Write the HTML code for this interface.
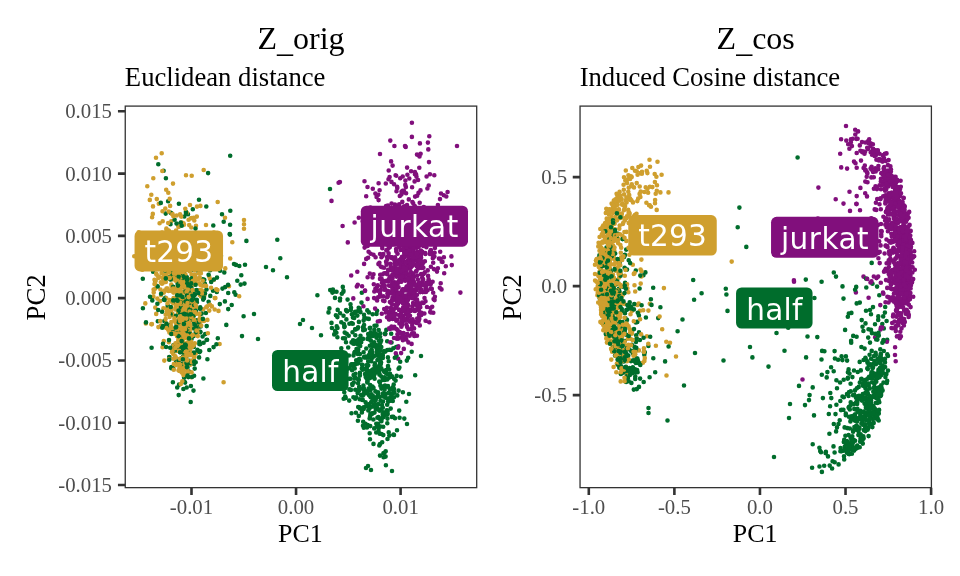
<!DOCTYPE html>
<html lang="en"><head><meta charset="utf-8"><title>PCA: Z_orig vs Z_cos</title>
<style>html,body{margin:0;padding:0;background:#fff}body{width:960px;height:576px;overflow:hidden}</style>
</head><body>
<svg width="960" height="576" viewBox="0 0 960 576" style="display:block;will-change:transform">
<rect width="960" height="576" fill="#fff"/>
<g fill="none" stroke-width="4.6" stroke-linecap="round"><path d="M188.2 342.4h0M192.9 298.9h0M631.4 200.2h0M164.3 255.7h0M177.1 278.7h0M598.3 282.8h0M605.8 213h0M189.2 225.1h0M604.3 226.2h0M625 220.3h0M183.2 298.9h0M182.9 341.7h0M179.5 371h0M209.9 278.7h0M151.4 324.3h0M187.8 264h0M185.2 334.1h0M190.5 364.6h0M206 225h0M187.2 304.6h0M614.8 235.1h0M172.2 275.5h0M600.4 270.2h0M185.1 328h0M173.2 232.5h0M170.3 249.9h0M599.9 246.1h0M190.8 309.5h0M605.9 291.3h0M618.9 209.8h0M603.4 271.5h0M171.7 286.7h0M184.6 299.5h0M158.3 277.9h0M613.4 335.8h0M191.3 227.5h0M166.9 308.2h0M603.4 275.1h0M611.1 229h0M606.6 327.8h0M175.7 322.9h0M623.8 189.7h0M606.8 260.3h0M190.9 218.2h0M193.6 268.2h0M634.9 215.1h0M623.9 210.2h0M154.4 252.4h0M621.5 359.5h0M177 335.9h0M638.2 198.5h0M171.3 232.6h0M179.4 360.5h0M661.6 174.8h0M182.5 366.7h0M617.8 331.2h0M607 220.1h0M175.4 240.6h0M244 220h0M189.2 322.7h0M174.5 269.5h0M188.5 269.6h0M155.3 307.6h0M626 217.8h0M184.6 336.5h0M183.6 321.7h0M184.5 264.6h0M212 254.3h0M190.9 304.3h0M191.9 290.1h0M606.4 230.8h0M597.7 293.1h0M177.5 291.5h0M176.8 276.9h0M204.3 295.7h0M165.3 208.6h0M611.5 249.8h0M597.4 295.3h0M175.6 267.7h0M611.3 359.6h0M606.9 342.6h0M178 312.3h0M189.1 279.2h0M609.1 224.9h0M614.3 338h0M177.8 246.1h0M168.8 342.3h0M173.2 354h0M616.9 201.1h0M185.6 266.1h0M613 316.5h0M165.7 314.7h0M185.8 312.3h0M611.6 217h0M188.2 352.7h0M624.4 359.3h0M602.5 256.6h0M203.1 309.4h0M608.1 263.5h0M614.3 350.3h0M610.2 223.4h0M195.2 313.9h0M617.4 195.3h0M607.2 269.6h0M183.3 274.6h0M176.3 267.7h0M187 305.1h0M195.8 353.5h0M151.6 244.8h0M192.3 320.3h0M605.6 329.2h0M180.2 307.6h0M612.7 334.2h0M609.9 327.2h0M201.4 258.2h0M185.5 274.6h0M173.4 333.8h0M178.6 226.9h0M641.1 165.6h0M602.6 312.1h0M599.7 293.1h0M181.5 342.3h0M183.7 345.5h0M163.4 253.1h0M596 260.5h0M186.1 303.3h0M606.1 320.6h0M652.2 220.4h0M209.2 276.6h0M618.4 306.4h0M624.7 355.4h0M615.3 262.2h0M211.1 247h0M187.5 372.2h0M187.9 278.9h0M181 270.7h0M621.2 247.7h0M169.5 300.1h0" stroke="#CF9F2E"/>
<path d="M182.8 317.4h0M856.6 336.8h0M870 310h0M379.1 335.2h0M343.7 398.8h0M157.8 321.2h0M603.8 291.2h0M618.9 288.9h0M613.1 256.4h0M854 415.5h0M200.3 331.9h0M189.6 360.9h0M179.9 322.7h0M862.9 424.7h0M370.3 357.5h0M634 361.1h0M391.5 376.8h0M807.5 336.5h0M879.3 402.3h0M870 401.3h0M845.8 413.6h0M881.1 393h0M658.2 318.1h0M381.4 434h0M378 404.2h0M360.2 346h0M191 310.4h0M159.6 264h0M635.1 369.4h0M364.3 389.9h0M370.2 426.1h0M636.8 389.1h0M199.7 325h0M851.9 453.8h0M869.2 423.8h0M189.3 346.1h0M181.9 346.8h0M205.9 313h0M228.2 293h0M364.2 392.8h0M876 376.9h0M395 418.2h0M631.3 307.1h0M854 370.5h0M873.7 422.9h0M858.5 431.2h0M374.5 332.6h0M639 332.2h0M354.8 352.1h0M854.4 427h0M627.7 356.6h0M378.3 393.4h0M208.1 173.1h0M384 351h0M809 400.1h0M181.3 249.4h0M857.3 396.3h0M822.1 350.9h0M860.8 370.4h0M846.1 444.5h0M142.1 239.3h0M882.3 324.1h0M391.5 342.5h0M391.5 394.8h0M826.7 377.4h0M854.3 408.9h0M335.6 374.3h0M768.5 366.6h0M189 321.2h0M840.6 448.1h0M843.4 409.7h0M832.1 468.5h0M877.3 403h0M331.9 328h0M884.9 312.6h0M378.1 423.9h0M192.3 361.5h0M186.4 287.7h0M852.9 442.6h0M649.6 377.3h0M359.2 407.3h0M173.4 345.3h0M368 466h0M872.1 382.3h0M383 379.7h0M171.7 314.7h0M235.6 294.8h0M624.9 355.2h0M178.5 363h0M368 406h0M216.8 292h0M188.8 280.5h0M186.6 365.5h0M608.2 294.9h0M605.2 265h0M612.8 236.5h0M176.1 361.5h0M163.1 268.5h0M819.5 466.5h0M875.3 393.4h0M351.5 342.4h0M350.7 378.8h0M362.6 399.5h0M208.6 274.7h0M875.9 364.3h0M867.5 362.7h0M357.6 311.3h0M851.4 312.9h0M194.7 235.8h0M217.1 238.7h0M622.8 328.7h0M382 405.1h0M841.9 409.7h0M377.3 349.6h0M613.2 335.9h0M178.9 203.7h0M202.8 279.3h0M379.3 373.6h0M194.1 364h0M612.5 326.4h0M173.2 276.3h0M867.7 394.2h0M874 356.1h0M693.2 280h0M853.1 431.7h0M357.8 354h0M358.7 307.8h0M303 320h0M875 324.2h0M366 468h0M186.2 357.5h0M847.9 377.9h0M871.7 397.6h0M790 404h0M855.1 440.8h0M193.2 354.3h0M827.4 372.1h0M614.9 269h0M169.3 357.1h0M368.1 374.7h0M614.8 342.4h0M212.5 255.6h0M624.6 267.7h0M358.2 407h0M155.2 281h0M370.5 335.9h0M868.6 436.1h0M834.9 358.5h0M379.4 367.5h0M373.4 372.4h0M371.1 402.2h0M618.5 313.7h0M645.9 317.5h0M606.7 254.6h0M875.8 355.1h0M387.9 386.1h0M635.9 322.4h0M195.7 362.2h0M199.8 325.3h0M605.7 314.8h0M610 269.6h0M180.9 257.9h0M183.9 272.7h0M386 371.2h0M402.9 392.3h0M609.4 312.8h0M612.9 304.6h0M852.2 450.5h0M365.8 406.4h0M215.3 259.9h0M369.6 378.2h0M610.6 275.7h0M866.2 408.1h0M376.7 352h0M883.8 328.4h0M852.3 418.6h0M380.2 419.3h0M387.7 414.1h0M164.3 321.1h0M626 366.9h0M843.5 298.6h0M186.9 277.4h0M361.9 412.4h0M177 268.8h0M358.3 349.4h0M833.7 371.3h0M871.2 375.1h0M394.4 392.7h0" stroke="#006D2C"/>
<path d="M885.4 173.9h0M390.9 266.7h0M368.1 257.7h0M416.6 302.4h0M890.2 272h0M865.6 169.8h0M418 243.7h0M409.1 249.5h0M442.5 261.9h0M891.1 242.4h0M413.9 219.2h0M386.9 311.7h0M389 214.6h0M430.8 284h0M415 310.9h0M874.7 209.4h0M390 276.8h0M400.6 301h0M399.7 332h0M406.1 313.9h0M409 309.9h0M891.1 178.5h0M394.7 282.2h0M893.8 262.1h0M396.9 338.7h0M898.8 313.1h0M447.3 218.5h0M891.3 225.4h0M406.3 290.4h0M855.3 134.5h0M397.1 284.9h0M428.7 280.8h0M406.8 307.7h0M412.6 246.2h0M901.2 302.1h0M425.3 242.9h0M392 309.6h0M416.5 176.8h0M897.2 232.1h0M905.6 246.4h0M389.3 244.2h0M851 223h0M890.4 166.3h0M392.5 284.6h0M418.6 321.2h0M907.6 292.5h0M902.4 205.1h0M410.6 280.2h0M906.1 268.5h0M424.2 215.7h0M907 242.2h0M415.6 231h0M909.9 287.7h0M905.2 294.7h0M910.8 259h0M422.4 262.9h0M431.8 288.9h0M412.4 298.3h0M377.8 321.5h0M364.9 220.6h0M908.7 265h0M895.8 331.1h0M388.5 179.2h0M420.2 223.3h0M390.1 270h0M888.5 176.8h0M895 188.6h0M909.1 268.6h0M422.1 220.3h0M441.5 289.4h0M384.5 301.1h0M416.9 254.8h0M908.9 263h0M901.9 205.4h0M901.6 227h0M408.4 329.2h0M401 258.8h0M908.6 217.7h0M902.2 205.2h0M403.4 290.5h0M403.1 303.6h0M888.5 302.5h0M856.7 167.8h0M417.3 275.6h0M905.1 292h0M905.5 242.4h0M893.1 196.2h0M907.4 282.2h0M419.8 258.9h0M891.4 284h0M408.5 224.8h0M885.1 190.8h0M413.7 246.7h0M894.4 229.9h0M383 283.2h0M895.2 215h0M425.5 288.2h0M907 297h0M897.8 194.2h0M905.7 274.7h0M402.2 333.3h0M416.8 257.8h0M395.9 304.7h0M367.6 277.3h0M888.6 160.1h0M382.3 248.2h0M886 218.4h0M886.2 189.5h0M391.1 161.4h0M383.3 296.2h0M408.2 275h0M895.4 185.2h0M862 142.1h0M897.4 271.2h0M380.2 274.8h0M898.4 301.4h0M408.2 299.2h0M900.9 203.3h0M881.7 231.4h0M363.2 232.4h0M907.2 250h0M414.1 328.4h0M899.5 277.1h0M907.1 300.5h0M421.5 263.6h0M425.4 253.9h0M390.4 312h0M909.7 294.9h0M850.9 139.4h0M418.7 306.9h0M415.2 304.7h0M413.3 263.1h0M417.6 302.6h0M888.7 274h0M856.6 138.9h0M899.8 282.5h0M395.9 286.9h0M430.9 266.7h0M911.6 267.2h0M428 283.8h0M903.6 269.7h0M390.4 242.8h0M394 338h0M407.4 300.1h0M376 227.2h0M399.3 315.3h0M408.4 310.8h0M408.4 294.9h0M402.7 337.8h0M858.1 131.4h0M899.3 245.1h0M380.7 290h0M432.2 306.8h0M398.2 358.7h0M890.8 288.4h0M871.4 232.2h0M387.1 272.7h0M900.2 315.6h0M415.1 196.6h0M404 289.4h0M410.8 267.6h0M904.8 226.3h0M397.4 268.5h0M904.3 231.5h0M898.3 196.2h0M395.3 292h0M408.4 342.4h0M862.3 152.2h0M793.9 280.3h0M904.1 263.6h0M905.1 286.7h0M417.3 238h0M890.5 300h0M404.4 254.6h0M396.7 305.6h0M397.9 283.1h0M903.3 268.4h0M895.6 176.9h0M885.7 201.3h0M446.8 232.7h0M422.3 251.7h0M909.1 239.7h0M414.7 206.5h0M421.1 274h0M896.9 309.6h0M422.6 284.3h0M419.3 167.7h0M904.6 232.8h0M396.1 282.9h0M405.9 187.1h0M880.8 282.8h0M903 267.3h0M856.7 153h0M420.8 254h0M407.6 289.9h0M908.9 263.2h0M386 236.2h0M441.7 261.7h0M896.6 316.7h0M896.9 293.5h0M390.1 293.3h0M894.4 233.9h0" stroke="#810F7C"/>
<path d="M657 185.3h0M180.6 310h0M173.5 292.3h0M187.1 342.7h0M605.9 304.4h0M621.5 361.4h0M615.1 229.2h0M617.3 291.1h0M180.9 335.6h0M214.7 309.5h0M610 314h0M159.4 253.9h0M194 311.4h0M603.3 252.5h0M186.6 305.1h0M174.8 316.7h0M613 315.6h0M175 346.4h0M608.9 258.9h0M181.4 308.7h0M599.6 237h0M641.4 259.6h0M611.2 243.4h0M188.2 234.7h0M606.4 298.1h0M604.7 289h0M606.7 224.6h0M605.6 231.7h0M208 237.1h0M173.2 277.5h0M188.2 349.8h0M199.7 277.4h0M609.4 340.7h0M621.9 217.6h0M610.1 293.9h0M615.7 284.9h0M627.1 183.1h0M618.8 342.1h0M177.2 346.8h0M620.6 373.5h0M199.4 283.4h0M613.7 206.3h0M620.4 314h0M164.3 326.9h0M608.5 258.5h0M193.1 254.5h0M149.5 258.7h0M608.8 238.6h0M173.7 345.6h0M629.6 213.7h0M603.9 278.9h0M185.3 283h0M599.6 271.5h0M172 250.6h0M188.4 326.4h0M192.9 237.5h0M163.4 282.5h0M656.9 246.3h0M152.1 217.2h0M163.8 341.1h0M186.1 336.8h0M181.5 351.9h0M174.8 262.1h0M618.9 313.3h0M609.1 255h0M640.7 191.5h0M176.7 296.3h0M179.9 352.1h0M178.4 290.1h0M229 286.3h0M190 268.2h0M644.4 192h0M183.7 364.7h0M598.3 275h0M602.7 293.7h0M217.7 202h0M605.7 222.8h0M614.6 309.8h0M202.2 285.8h0M199.7 295h0M618.4 335.1h0M605.3 278h0M171.7 247.3h0M601 268.8h0M622.1 351.4h0M606.9 225h0M618.9 305.4h0M600.6 281.6h0M188 296.1h0M190.7 303.5h0M175.6 308.1h0M617 293.9h0M196.5 323.9h0M617.3 238.2h0M613.9 299.3h0M625.6 200.2h0M618.8 209.2h0M618 360.9h0M612.2 336.2h0M185.7 312.9h0M614.5 308.3h0M182.2 346.2h0M628.3 191.7h0M631.8 333.8h0M604.4 327.9h0M615.9 291.2h0M607.4 230.9h0M180.4 329.7h0M161.6 273h0M629.7 176.8h0M199.8 266.6h0M663.9 288.1h0M163.5 265.9h0M184.5 354.5h0M181.1 252.5h0M609.3 270.9h0M620 317.1h0M632.3 168h0M606.8 295.6h0M620.1 293.2h0M180.7 301.8h0M602.3 227.4h0M626.3 372.9h0M600.4 321.9h0M607.2 301.5h0M179.3 284.9h0M191.4 377.2h0M618 350.1h0M178 304.8h0M178 336.7h0M172.4 279.3h0M609.3 210.7h0M605.9 311.1h0M606.6 297h0M625.9 345.6h0M626.4 231.9h0M626.5 197.6h0M186.1 241.9h0M172.5 313.8h0M180 296.8h0M601.7 255.1h0M619.1 352.9h0M185.5 348.5h0M156.2 313.9h0" stroke="#CF9F2E"/>
<path d="M881.1 392.1h0M618.2 304.3h0M359.1 359.1h0M369 355.1h0M379.5 374.8h0M383.4 453.2h0M602.3 280h0M397 430.2h0M604.1 226.5h0M241.3 275.3h0M848.6 369.4h0M190.1 294.5h0M340.1 313.3h0M369.7 433.3h0M617.2 338.4h0M619.4 291.2h0M863.3 398h0M866.3 287.5h0M189.5 307.9h0M359.9 372.9h0M345.7 398h0M142.8 278.7h0M368.8 355.3h0M207.4 359.2h0M383 415.9h0M219.8 240.7h0M860.2 410.8h0M198 350.7h0M841.4 451.1h0M880.5 367.7h0M861.5 378.9h0M169 340.1h0M631.1 350.9h0M190.7 402h0M873.6 374.8h0M192 377h0M633.5 351.3h0M347.2 311.3h0M342.5 359.4h0M378.4 404.2h0M629.5 368h0M381.1 362.5h0M367.7 425.1h0M870.1 412.8h0M613 313.7h0M342.8 286.9h0M629.7 374.4h0M380 363.1h0M369.7 355.1h0M630 372.5h0M390.4 400.7h0M858.2 411.7h0M865.5 392.6h0M374.8 333.3h0M848.9 416.8h0M387.5 398.5h0M737.7 227.2h0M169.6 325.2h0M379.5 354.3h0M867.5 404.9h0M848.9 407.1h0M620.3 299.5h0M848.9 443.2h0M230.1 224.8h0M880.9 357.7h0M862 400.6h0M867.5 384.3h0M617 321.6h0M191.7 344.3h0M364.8 357.5h0M623 372.8h0M349.6 368.1h0M362.1 410.2h0M369.6 404.1h0M196.9 320.4h0M600.6 284.7h0M184.5 291h0M639 386.9h0M825.9 451.9h0M363 338.9h0M355.9 412.7h0M358.7 339.3h0M877.2 393h0M370.8 397.3h0M831.1 367.2h0M868.3 409.7h0M187.5 367.6h0M852.4 377.1h0M206.1 267.9h0M788.2 327.7h0M350.9 389.9h0M880.1 372.3h0M171.7 330.4h0M201.5 237.8h0M383.1 401.5h0M607.7 323.3h0M389.5 319.1h0M862.8 420h0M349.4 323.8h0M876.5 388.3h0M359.7 308.7h0M177.1 344.7h0M618 346.2h0M317.4 295.2h0M421 356h0M844.7 446.9h0M848.6 454h0M847.7 378.6h0M385.8 394.1h0M621.6 346.8h0M862.4 438.4h0M607.5 297.6h0M876.3 390.5h0M374.3 329.8h0M637.3 322h0M635.9 363h0M888 370.6h0M396.7 375.9h0M617.7 283.4h0M879.1 396.6h0M855 390.4h0M829.4 433.8h0M167.7 305.4h0M873.3 391.7h0M855.2 414.2h0M850.6 383.8h0M636.2 335.3h0M618.1 233.8h0M621.5 360.7h0M865.5 418.3h0M612 234.7h0M619.7 355.4h0M370.7 340.5h0M880.5 396.1h0M371.9 413.9h0M879.7 361.7h0M178.7 283.6h0M377.1 310.7h0M242 336.1h0M175.9 333.3h0M266 267h0M183.9 300.3h0M383.7 417.1h0M371.5 349.5h0M200.2 307.3h0M865.2 398.9h0M873.8 412.4h0M868.2 428.3h0M886.4 374.1h0M870.1 417h0M608.7 324.1h0M377.4 417.7h0M635.3 376.6h0M851.7 449.3h0M389.2 369.5h0M615.9 355.8h0M862.7 412.3h0M853.2 335.9h0M633.2 360.2h0M188 214.3h0M385 385.6h0M617.2 280.3h0M878.4 371.6h0M365 374.1h0M667.5 420.5h0M171.4 367.1h0M204 298.1h0M873.9 387.7h0M880.4 389.8h0M631 361.1h0M862.5 326.7h0M878.8 335.6h0M361.8 292.8h0M194.6 307.4h0M206.6 340h0M862.8 443.6h0M599.6 298h0M653.2 287.8h0M226.3 324.9h0M865 424.4h0M194.1 302.1h0M621.9 337.1h0M175.9 343.8h0M363.2 421.8h0M876 392h0M812.7 444.2h0M372.4 386.5h0M206.3 206.5h0M854.2 394.9h0M387.9 357.4h0M383.3 435.1h0" stroke="#006D2C"/>
<path d="M443.8 195.2h0M904.9 220.4h0M392.6 318.9h0M406.9 313.8h0M905.3 269.8h0M899.1 207.3h0M407.3 306.8h0M387.7 296.6h0M903.3 300.8h0M896.5 240.9h0M427.7 270.4h0M429.9 174.2h0M881.8 173.2h0M897.1 189.4h0M906.8 215.9h0M905.3 296.9h0M898 236.5h0M391.8 292.1h0M875.1 337.3h0M399.4 280h0M903.3 206.4h0M413.8 253.5h0M412.4 277.2h0M910.6 253.1h0M877.8 150.2h0M895 184.8h0M903.2 232.9h0M893.9 213.5h0M420.9 250.6h0M876.5 278.1h0M419.8 236h0M394.4 146h0M420.8 285.9h0M396.6 291.5h0M397.3 188h0M906.6 236.2h0M400.6 316.9h0M908.2 237.6h0M421.4 262.2h0M392.6 282.5h0M414.9 309.7h0M394.8 285.6h0M415.1 289.2h0M409.8 268.4h0M406 312.7h0M872.2 151.1h0M910.6 307.1h0M377.4 290.7h0M411 259.6h0M905.3 253.1h0M437.9 268.3h0M888.6 172.2h0M892.2 194.5h0M401.2 337.4h0M410.4 264.8h0M414.6 181.4h0M413 264.6h0M901.2 257.4h0M414.9 293.9h0M904.7 280.6h0M898.8 298.3h0M409.6 309.9h0M413.3 256h0M892.1 192.8h0M909.2 295.7h0M390.8 308.1h0M902.2 236.9h0M907.6 259.6h0M408.9 260.1h0M410.3 311h0M897.2 195.1h0M901.2 316.7h0M904.7 217.3h0M901 193.3h0M867.5 182.3h0M416.3 211.6h0M392.5 223.8h0M885.9 211.9h0M894.5 223.6h0M411.6 292.2h0M407 239.2h0M402.6 333.5h0M906.9 255.8h0M891.4 193h0M413.5 281.4h0M874.3 152.2h0M904.7 248.1h0M405.2 221h0M900.4 212.5h0M370.9 241.4h0M886.6 263.2h0M909.6 224.9h0M902 242.6h0M386.5 262.6h0M399.2 247.1h0M404.7 311.3h0M416.6 266h0M888.6 170.5h0M876.4 159.7h0M407.9 304.9h0M403.1 258h0M403.9 190.8h0M418.5 192.9h0M904.6 299.2h0M895.4 277h0M901.1 321.3h0M886.1 178.2h0M876 155.1h0M897.3 205.7h0M870.4 146.2h0M404.4 295.8h0M392.9 313.5h0M443.8 234.8h0M894.6 299.4h0M414.4 292.3h0M412.7 291h0M388.6 253.2h0M405.3 253.1h0M387 311.4h0M408.9 296.7h0M906.2 284.4h0M402.6 263.9h0M423.6 303h0M406.5 270.4h0M901 313.4h0M895 220.2h0M410.7 289.7h0M902.6 235.3h0M378.3 194.7h0M887.1 246.1h0M410.9 321.4h0M893.6 216.5h0M385.2 334.2h0M890.9 224.9h0M897.5 201.1h0M399.6 261.6h0M416.7 224.7h0M422.4 281.2h0M414.3 276.8h0M424.6 241h0M410 315.7h0M900.5 194.6h0M433.3 312.7h0M903.3 242.7h0M400.8 295.3h0M872.9 144.2h0M885.9 245.5h0M399.6 301.8h0M422.2 302.6h0M892 181.9h0M904.5 250.8h0M406.5 288.1h0M905.8 278.1h0M895.3 190.3h0M900.1 196h0M910.5 248h0M854 161.6h0M899.2 319.8h0M884.6 188.6h0M892.6 282h0M407.1 326.9h0M896.3 229.9h0M408.6 280.3h0M418.6 244.2h0M403 307.9h0M405.7 146.9h0M393.3 293.5h0M411.4 294.2h0M898.2 302.1h0M906.4 268.5h0M398.3 346.4h0M391.6 257.4h0M902.6 286.6h0M910.9 285.5h0M880.4 199.1h0M903.6 233.4h0M912.1 282.1h0M870.6 143.3h0M905.7 275.7h0M402 324.7h0M400.7 273.4h0M895.5 232.5h0M910.6 288.4h0M899 307h0M892.9 271.7h0M908.7 289.6h0M460.4 292.6h0M914.2 251.3h0M439.8 287.8h0M432.8 258.3h0M901.6 247.4h0M909.8 252.8h0M907.4 272.5h0" stroke="#810F7C"/>
<path d="M623.9 355.8h0M187.1 265.5h0M601 292.9h0M188.5 248.9h0M619.1 356.9h0M611.6 258.4h0M168.8 230.8h0M642 171.9h0M601.4 307.5h0M607.2 311.8h0M629.2 212.5h0M670 342.8h0M639.5 248.8h0M619.3 228.8h0M171.2 313.5h0M189.5 354.7h0M189.6 271.2h0M619.3 318.8h0M638.9 350.4h0M175.1 233.6h0M155.3 284h0M152.8 213.9h0M189.7 335.1h0M606.1 241.2h0M613.5 332.2h0M624.4 232h0M595.7 289.2h0M182.5 239.4h0M649.8 303.8h0M181.4 315.3h0M178.3 350.9h0M610.8 281.2h0M639.7 193.9h0M204.3 291.5h0M610.4 334.8h0M614.4 204h0M181.5 272.2h0M666.9 225.6h0M610.1 340.5h0M180 324.7h0M600.4 257.1h0M199.6 290h0M601.3 307.4h0M171.3 213h0M189.6 270.9h0M200.3 321.5h0M651 206.8h0M606.2 289.9h0M607.1 232.1h0M625.3 180.5h0M173.9 364.1h0M613.8 323.9h0M620.3 265.3h0M603.2 225.5h0M611.6 348.9h0M614.1 278.1h0M188.4 309.9h0M186.4 269.9h0M181.7 251.6h0M646.7 170.8h0M185.9 263.1h0M199.9 256.1h0M603.4 314.1h0M629.4 199.6h0M192.6 279.7h0M176.3 273.4h0M196 225.7h0M622.4 236.1h0M171.9 352h0M610.3 230.6h0M166.7 253.9h0M170.1 205.9h0M608.1 326.6h0M601.2 294.6h0M605.7 294h0M149.8 199.9h0M609.8 324.1h0M218.5 310.9h0M172.4 213.9h0M179.1 258.9h0M196.5 257.8h0M607.6 249.3h0M164.8 267.9h0M171.3 284.6h0M198.2 321.7h0M622.8 294.7h0M190.7 352h0M158.8 203.8h0M161 295.1h0M170.7 290.6h0M612.4 210h0M177.6 294.1h0M158.2 268.9h0M604.9 284h0M639.6 193.9h0M183.8 280.2h0M182.5 366.4h0M179.5 367.7h0M183.4 357.7h0M184.1 257.1h0M606.2 227.7h0M608.9 254.6h0M631.9 311h0M166.3 323.2h0M178.6 320.2h0M174.2 239.8h0M630.6 177.2h0M637.3 201.1h0M601.7 302.1h0M160.4 289.5h0M195 274.6h0M603.7 266h0M605.8 241.3h0M600.1 292.3h0M621.1 257.4h0M204 320.9h0M190.5 261h0M611.6 203.5h0M170.2 239.8h0M175.5 343.3h0M183.1 342.2h0M182.9 359.3h0M169.1 247h0M609.5 234.5h0M603.1 320.4h0M644.4 360.9h0M138.7 232.3h0M640.6 269.5h0M598.6 242.8h0M624.4 350.1h0M632.8 264.7h0M193.8 280.6h0M618.8 274.2h0M192.5 278.4h0M183 292.7h0M636.7 183.1h0" stroke="#CF9F2E"/>
<path d="M189.4 315.1h0M859.8 382.6h0M190.9 345.5h0M870 342.6h0M189 303.5h0M857 401.3h0M337.4 317.1h0M359.4 388.1h0M390.3 397.4h0M886.6 321h0M352.1 370.2h0M840.1 382.5h0M629.4 305.1h0M187.6 244.8h0M167.5 326.1h0M372.4 397.3h0M875.2 333.8h0M184.8 305.7h0M193.1 267.4h0M373.7 376.3h0M606.7 315h0M701.6 293.3h0M349.4 389.4h0M644.8 352.2h0M668.6 346.5h0M621.6 331.4h0M371.2 354.5h0M376.9 407.8h0M388.2 401.7h0M854.1 450.6h0M665.1 361.4h0M863.3 436.2h0M362.8 395.5h0M868.8 365.2h0M377.4 360h0M244.5 283.6h0M660.4 307.3h0M630.1 263.1h0M860.3 414.6h0M207 263.8h0M876.2 339.5h0M624.2 256.8h0M611 303.4h0M857.2 445.6h0M336.7 326.4h0M190.9 386h0M623 286.8h0M335 297.9h0M626.7 348.3h0M391.3 397.2h0M344.7 332.6h0M872.5 372.4h0M204.4 262.6h0M877.2 419.2h0M613.3 318.1h0M694.1 299.8h0M181.6 333.5h0M853.2 430.2h0M865.5 323.4h0M170.1 279.1h0M635.8 270.5h0M200.2 351.3h0M357.9 420.7h0M376.5 313.9h0M194.2 321.9h0M606.3 241.5h0M194.3 295.4h0M624.8 369.7h0M367.5 379.7h0M645.4 272.4h0M193.6 315.6h0M355.1 312.2h0M615 355.6h0M867.9 394h0M874.6 361.1h0M727.5 310.9h0M723.5 360.5h0M191.7 295.8h0M379.6 355.6h0M194.7 368.6h0M812.7 387.4h0M312 328h0M868.4 404.2h0M805.8 279.6h0M355.3 389.8h0M628.7 260.2h0M620.4 342.8h0M205.5 250.6h0M877.4 339.6h0M343.5 315.8h0M191.5 354h0M852.3 446.8h0M385 333.7h0M188.2 287.7h0M384.8 377.3h0M857.4 401.7h0M845.8 415.2h0M369.7 328.2h0M872.5 407.2h0M611.2 342.2h0M632.8 353.3h0M153.1 271.8h0M359.7 399.2h0M848.8 313.6h0M611.1 300.6h0M879.1 362.2h0M881.3 375.1h0M868.1 401.4h0M176.1 350.9h0M177.2 387.5h0M862.4 439.8h0M848.3 447.7h0M187 283.4h0M872.7 378h0M158.2 310h0M614.9 230.1h0M372.6 370.4h0M357.3 363.4h0M839.7 420.2h0M197.7 263.6h0M214.4 262.1h0M384.4 452.7h0M190.9 347.1h0M865.4 357.7h0M188.2 262.1h0M180.7 358.8h0M374.5 325.7h0M376 398.3h0M625.1 282.7h0M859.2 418.9h0M853.1 395.3h0M347.6 299.6h0M206.9 254h0M881.2 385.3h0M415.2 375.3h0M228.2 309.1h0M882.8 366.1h0M624.5 359.5h0M398.6 368.8h0M836.4 380.3h0M606.5 258.2h0M628.3 355.6h0M634.5 346.9h0M407 424h0M369.9 345.8h0M620.6 274.6h0M861.2 396.1h0M184.3 320.3h0M400.9 376.6h0M863.8 418.4h0M340.3 352.1h0M635 350.9h0M865.1 415.3h0M374.2 428.4h0M197.4 349.9h0M360.5 312.1h0M841 410.1h0M371.3 357.9h0M367.6 392.2h0M386.4 386.6h0M880.5 395h0M176.1 266.6h0M376.5 337.7h0M856.1 402.4h0M615.3 329.7h0M784.5 350.8h0M604.5 277.4h0M176.1 329.5h0M814.4 298h0M639.9 340h0M616.8 337.9h0M188.8 354.1h0M371 470h0M383.6 412.4h0M869.2 411.1h0M871.1 358.8h0M182.1 314.8h0M168.1 201.2h0M366.6 357.6h0M182.3 357.8h0M368.6 388.5h0M872 412.3h0M636.4 358.5h0M169.3 357.5h0M651.5 304.9h0M861.4 423.4h0M346.7 369.8h0M171.6 273.6h0M199.6 352.1h0M836.1 431.4h0M375.5 407.6h0M373.4 419.5h0M806.1 357.4h0M369.6 418.5h0M193.6 336.1h0M608.7 286.2h0M192.4 265.4h0M329.4 308.4h0M393.3 348.2h0M372.8 346.1h0M626.7 376.3h0M180.2 313.4h0M626.2 334.8h0M605.9 289.2h0M348.9 355.5h0M193.7 359.7h0M378.3 345.5h0M166.6 326.1h0" stroke="#006D2C"/>
<path d="M398.5 281.8h0M889 281.1h0M864.5 153.7h0M396.1 249.1h0M390.2 314.2h0M394.9 204.5h0M430.6 288.2h0M906.4 259.5h0M906.7 295h0M401.7 291.2h0M402.2 294.9h0M409.9 248.1h0M390 279.4h0M357.8 284.7h0M415.4 296.1h0M401.5 245.3h0M894.1 289h0M409 255.6h0M868.4 143.1h0M407.5 265.1h0M402.4 236h0M892 213.5h0M414.3 255.6h0M392.7 270.7h0M408.8 199.4h0M868.2 141h0M892 222.9h0M406.3 339.6h0M890.3 258.5h0M875.9 202.8h0M860.4 187.9h0M908.4 299.9h0M889.3 254h0M389.9 302h0M887.3 198.2h0M402.7 176.5h0M911.4 243.5h0M903.2 216.8h0M888.4 211.7h0M421.5 223.2h0M408.3 295.2h0M899.3 193.9h0M891 169.6h0M902.6 237.9h0M909.8 266.4h0M409.8 230.7h0M875.5 186.2h0M404.1 272.6h0M895.4 199h0M883 292.6h0M398.8 298.2h0M397.7 330.4h0M883.4 216.8h0M846.3 140.6h0M890.9 171.5h0M421 290h0M389.8 277.7h0M395.7 261.8h0M405.3 280.1h0M431.2 252.5h0M910.7 230.9h0M402.7 216h0M873.2 153.9h0M901.5 239h0M395.2 264.9h0M900 189.3h0M407.1 309.2h0M903.5 301.4h0M422.2 277.8h0M897.7 289.9h0M892.4 270h0M906.6 250h0M871.6 169.6h0M890.1 254.8h0M878.2 276.6h0M901.5 250.1h0M903.4 213.2h0M900.2 290.7h0M884.2 167h0M906.7 309.9h0M912.4 242.9h0M382 282.7h0M901.6 264.7h0M421.1 257.7h0M901.1 205.9h0M418.3 320h0M413.9 251.7h0M418.1 180h0M405.1 302.8h0M885.5 302.3h0M894.2 181.1h0M888.5 193.2h0M889.4 206.2h0M423.4 262.1h0M890.4 194.6h0M447.6 192h0M899.6 272.4h0M900.7 221h0M902.8 228.6h0M898.9 240.7h0M434.3 175.3h0M448.6 212.9h0M905.5 271.6h0M417.4 301.9h0M413.2 280.7h0M905.5 285h0M372.8 188.8h0M392.5 282.8h0M897.9 275.5h0M883.2 182h0M405.5 262.3h0M887.9 221h0M437.9 205.1h0M406.2 249.2h0M415 299h0M900.4 236.2h0M899.6 188.8h0M367.2 223.5h0M899.7 275.2h0M894.5 240.2h0M392 238.6h0M897.9 199.8h0M899.9 221.1h0M401.4 326.8h0M412.8 273.6h0M896.9 309.1h0M411.9 266.2h0M893.3 314.5h0M417.6 307.7h0M906.4 272.5h0M910.1 266.7h0M902.3 218.7h0M901.9 261.3h0M411.1 320h0M411.3 263h0M407.4 254.6h0M398.2 338.2h0M895 241.1h0M416.5 290.1h0M908.1 312h0M388.2 293.9h0M859.8 145.4h0M901.6 233.9h0M909.7 270.8h0M899.1 264.4h0M388 291h0M900.4 304.1h0M373.8 284.2h0M900 285.7h0M410.2 310.9h0M894.9 204.9h0M403.5 316h0M451.4 256.4h0M423.1 239.3h0M891.7 193.5h0M387.5 249.6h0M417.2 195.8h0M408.8 255.4h0M339.9 182h0M865.1 151.7h0M900.7 289.9h0M905.7 214.3h0M909.2 250.3h0M375.4 193.6h0M414.4 310.8h0M905.2 240.9h0M440.7 258.7h0M420.4 304h0M406.2 309.9h0M909.4 283.7h0M907.9 292h0M892.7 214.1h0M849.5 191.7h0M889.3 228h0M900 279.7h0M909.4 279.1h0M393 258h0M886.1 187.7h0M429.9 253.9h0M414.5 297.4h0M887.1 173.3h0M904.8 321.9h0M899.8 209.2h0M366.2 196.3h0" stroke="#810F7C"/>
<path d="M179.6 299.7h0M186.8 212.8h0M142.3 269.8h0M606.9 211.9h0M170.3 300.4h0M611.8 311.4h0M610.4 343.4h0M169.4 272.3h0M178.5 370.2h0M206.2 260.2h0M613.5 241.1h0M612.8 251.8h0M600 256.6h0M652.4 228.8h0M662.2 329.3h0M607.6 275.4h0M621.4 336.3h0M606.3 321.4h0M174.8 272.6h0M619.3 200.6h0M610.7 291.7h0M627.1 324.3h0M614.5 264.8h0M185.3 279.5h0M620.7 258.9h0M618.8 358.8h0M617.2 297.3h0M181.6 282.7h0M630.5 338.8h0M602.4 253.7h0M179.3 294.2h0M179.8 345.9h0M180.5 298.9h0M635 170.7h0M616.4 199h0M613.5 255.8h0M604.1 229.5h0M604.1 291.8h0M606.4 223.2h0M599.5 250.7h0M182 323.5h0M608.9 302.6h0M600.4 277.6h0M616 262.6h0M605.7 225.8h0M157.4 298.6h0M616.4 312.9h0M182.7 347.2h0M165.2 238.1h0M626.9 216.4h0M607.3 322.7h0M186.4 257.8h0M189.7 319.3h0M189.9 355.2h0M199.9 314.9h0M171.2 310.4h0M616.9 220.5h0M191.5 250.1h0M646.9 336.3h0M615.6 270.7h0M160.2 321h0M597.7 262.7h0M220.8 246.8h0M164.5 290.5h0M187.9 327.8h0M617.4 303.5h0M169.5 253.5h0M173.3 303.3h0M618.2 243.2h0M605.6 266.1h0M621.2 344.3h0M609.4 210.2h0M613.6 367h0M598.3 246.4h0M613.4 240.5h0M190.3 327.1h0M614.1 332.6h0M157.7 243.3h0M606 225.4h0M183.9 238.6h0M597.1 260.8h0M622.1 345.1h0M620.1 330.8h0M609.7 209.3h0M638.4 167h0M156.5 274.6h0M162.4 278h0M617.2 204.2h0M166.5 230.1h0M181.7 338.4h0M191.3 352.9h0M603.2 258.3h0M163.4 308.4h0M176.7 252.6h0M628.2 209.9h0M608.9 214.6h0M171.3 221.2h0M623.6 184.8h0M634 187.4h0M182.7 308.4h0M169.4 332.6h0M172 349.6h0M627.9 179.3h0M659.6 316.5h0M191.3 360.9h0M598.6 276.3h0M603.2 324.9h0M613.7 322.3h0M184.9 374.8h0M207.3 306.2h0M629.4 374.7h0M616.1 355.2h0M173 183.6h0M186.5 351.7h0M628.4 292.2h0M603 281.7h0M183.5 223.2h0M606.4 335.6h0M213 241.2h0M640.4 197h0M177.8 361.8h0M169.1 314.2h0M627.1 284.2h0M184.5 266h0M196.9 323.2h0M613.2 347.1h0M189.4 349.5h0M606.7 322.9h0M608.1 210.9h0M166.5 288.6h0M652.4 187.1h0M629.4 254.7h0M168.9 359.2h0M636.8 338.3h0M612.7 209.3h0M619.6 191.9h0M192.7 319.6h0M603.4 253.9h0M145.3 303.4h0M185.5 303.5h0" stroke="#CF9F2E"/>
<path d="M374 372.7h0M192.7 290.4h0M178.2 274.6h0M184.3 216.5h0M176.7 329.2h0M875.6 352.8h0M383.5 386.3h0M387.8 368.8h0M179.1 384.6h0M842.4 360.1h0M182.6 347h0M369.5 408.5h0M201.3 269.5h0M880 357.2h0M182.5 277.6h0M182 244.7h0M614.1 233.4h0M867.6 414h0M355.5 377.7h0M258 339h0M186.7 335h0M599.6 289.7h0M362.3 400h0M370.2 327.7h0M857.5 398.7h0M386.8 410.4h0M200.3 332.1h0M361.8 395h0M181 307.1h0M234 264h0M611 313.6h0M626.2 249.6h0M601.7 260.9h0M380 455.6h0M868.2 378.2h0M184.8 255.4h0M185.5 317.8h0M607.1 272.5h0M655.2 372.2h0M365.6 356.6h0M846.9 452.8h0M844.2 459.4h0M222 214.2h0M179.3 268.2h0M864.7 381h0M397.3 395.4h0M848 451.4h0M343 338.3h0M254 314h0M173.1 301.7h0M370.5 340.3h0M378.2 366.4h0M380.5 400.7h0M381.1 409.3h0M385.4 397.8h0M352.2 384h0M627 269.6h0M376.3 423.7h0M202.4 260.3h0M358.1 327.2h0M367.5 381.5h0M186.9 319.6h0M370 352h0M878 393.7h0M868.2 337.6h0M809.6 395.1h0M231.7 305h0M189.1 321.5h0M376.3 347.7h0M856.1 417.7h0M637.6 372.3h0M854.8 420.6h0M617.2 355.6h0M386.2 370.1h0M330 189h0M862.1 419.2h0M849.8 409.5h0M366.8 393h0M357.6 393.1h0M374.2 342.3h0M856.7 303.4h0M352.4 384.9h0M880.3 349.4h0M602.2 312.6h0M851.2 443.7h0M380 444.1h0M185.9 211.9h0M234.3 292.3h0M609.4 274.7h0M821.5 359.5h0M837 388.2h0M186.7 387.5h0M872.5 283.7h0M175 262.1h0M626.3 310h0M631.4 382.9h0M365.6 402.3h0M335.1 330.7h0M165.9 178.3h0M821.6 281.8h0M605.1 311.4h0M337.4 337.2h0M189.9 353h0M182.1 281h0M394 389h0M870.8 405.7h0M606.7 285.7h0M601.8 250.1h0M638.9 315.4h0M603.7 265.1h0M887.2 339.9h0M187.5 309.4h0M834.6 452.5h0M865.7 412.5h0M368.6 357h0M867.3 385.5h0M876 417.1h0M379.9 410.7h0M205.2 334.1h0M187.5 241.2h0M184.4 381.5h0M865.1 417.7h0M287 277.3h0M877.1 286.6h0M170.2 277.9h0M166.5 323.9h0M868.5 427.2h0M182.9 286.2h0M280.3 258.3h0M622.5 345.6h0M367 370.4h0M375.8 371h0M862 438.1h0M874 363.2h0M173.2 368.3h0M399.6 417.7h0M367.9 372h0M850.7 402.2h0M644.3 354.8h0M178.5 320.6h0M185.1 382.6h0M630.1 306.9h0M361.8 368.6h0M367.5 338.9h0M199.4 341.7h0M637 321.8h0M845.9 356.4h0M619.7 364.9h0M363.7 408.9h0M208.6 301.8h0M845.1 329.9h0M336.4 332.7h0M875.4 388.2h0M626.1 381.9h0M648.4 346h0M195.4 325.3h0M875.5 380.7h0M372.1 356.1h0M624.7 341h0M182.8 333.9h0M371.3 355.3h0M186 213.2h0M379 366h0M183 356.5h0M623.6 257h0M358.9 321.9h0M606.5 247.6h0M624.7 357.3h0M633.4 251.6h0M607.1 323.7h0M621.2 366.4h0M202.4 235.9h0M378.7 330h0M615.2 231.9h0M384 414.9h0M194.1 257.5h0M838.1 359.7h0M371.4 377.3h0M243.6 316.2h0M213.6 347.1h0M352.8 323.7h0M606.8 313.9h0M617.1 341.4h0M614.1 336.6h0M191.4 287.2h0M621.9 333.6h0M396.2 347.1h0M632.2 373.3h0M605.8 333.9h0M868.7 385.4h0M885 362.4h0M631.8 344.7h0M352.4 364.3h0M752.4 357.4h0M379.6 418.3h0M647.5 247.2h0M643.4 275.3h0M624.8 330.7h0" stroke="#006D2C"/>
<path d="M856.5 204.1h0M376.8 287.6h0M879.5 153.7h0M387.4 274.3h0M389.8 246.9h0M864.6 230.6h0M902.1 263.9h0M430.1 251.6h0M895 206.1h0M375.4 288.7h0M414.2 247.2h0M901.7 276.2h0M909 258h0M882.6 173.4h0M851.9 146.1h0M900.6 304.2h0M898.1 272.4h0M402.2 291.3h0M898.1 256.2h0M404.2 242.1h0M863.5 276.6h0M396.6 239.9h0M889.9 198.6h0M904.2 310.8h0M427.6 290.3h0M434.4 243.9h0M403.8 192.3h0M890.9 209.1h0M889.7 195.2h0M400.2 178.2h0M882.5 161.3h0M897.5 314.4h0M390.2 263.8h0M909.3 296.4h0M399.7 297.5h0M898.5 238.1h0M447.3 242.9h0M404.9 269h0M426.3 282.7h0M416.2 247.8h0M907.5 215.7h0M439 258.6h0M405.1 268.3h0M427 307h0M865.2 193.3h0M380.3 296.4h0M397.5 275.4h0M907 243.4h0M904.1 297.4h0M897 191.6h0M896.1 275.2h0M894.4 227.9h0M902.5 323h0M408.2 312.4h0M425.2 253.1h0M877.2 199.1h0M910.9 239.9h0M372.3 210h0M430.5 308h0M894.6 321.5h0M410.1 278.3h0M884.8 270.2h0M893.8 210.9h0M415.5 245.8h0M401.4 263h0M903.8 278.4h0M408.2 314.2h0M401.9 275.5h0M885.7 268.9h0M415.4 239.8h0M904.9 266.2h0M424.8 291.9h0M908.3 247.9h0M909.2 211.9h0M892.2 278.3h0M379.9 321h0M897 264.5h0M410.8 272.1h0M423.1 279.3h0M433.2 262.7h0M892.2 323h0M411.1 280.1h0M409.3 263.1h0M403.4 298.5h0M392.9 288.2h0M901.3 306.8h0M906.7 298.2h0M402.2 262.6h0M868 149h0M893 316.4h0M385.8 183.5h0M885.9 199.9h0M855.2 129.8h0M402.3 201.9h0M892.6 234.7h0M897.3 291.6h0M385.6 273.4h0M405.4 301.5h0M900.7 219.3h0M440.2 251.7h0M383.3 254h0M405.8 239.1h0M892.8 195.4h0M848.2 144.3h0M889.1 180.1h0M377.7 226h0M388.2 281.4h0M408.7 315.9h0M393.4 310.1h0M402 256.7h0M908.9 264.2h0M411.6 328.4h0M882.2 327.5h0M384.3 240.4h0M888.9 177.9h0M903.6 299h0M893.5 176.9h0M906.8 233.6h0M908.2 260.2h0M899.8 289.8h0M905.1 277.8h0M903.7 198h0M416.7 323h0M886.9 341.8h0M414.6 260.2h0M893.8 202.3h0M901.6 227.9h0M887.1 200.6h0M423.8 207.1h0M901.4 207.5h0M401.1 353.1h0M399.1 260.3h0M887.7 207.7h0M912.3 257.5h0M886.6 246.2h0M895.7 258.6h0M421.5 290h0M385.8 312.5h0M898.2 290.3h0M886.6 227.2h0M890.2 179.2h0M408.9 262.1h0M417.2 288.2h0M900.9 336.4h0M910 259h0M898.4 302.1h0M409.6 266.5h0M406.1 244.7h0M397.9 231.5h0M818.4 187.6h0M906.1 221.7h0M893.3 194.8h0M894.9 237.8h0M908.7 266.5h0M908.6 317h0M418.9 252.4h0M888.7 260.4h0M906 273.6h0M898.9 336.1h0M409.7 252.3h0M908.8 253.6h0M895.1 197.5h0M417.7 261.2h0M891.3 233.7h0M902.6 285.4h0M896.4 290.9h0M407.6 214.7h0M910.4 293h0M364.1 263.9h0M399.7 269.6h0M407.1 167.6h0M903.8 226h0M416.5 271h0M908.2 213.1h0M879.7 263.1h0M390.3 140.6h0M902.1 205.6h0M903.1 236.8h0M907.2 254.6h0M414.9 174.3h0M412.6 293.7h0M388.1 312.5h0M900 227.3h0M417 335.7h0M903.9 325.5h0M384.4 289.7h0M908.5 265.3h0M400.2 263.9h0M870.6 168.5h0M891.1 180.3h0" stroke="#810F7C"/>
<path d="M179.7 347.5h0M183.3 301.1h0M611.2 254.7h0M619.2 277.4h0M181.2 253.2h0M179.4 251.5h0M177.8 328.8h0M176.7 329.8h0M187.6 354.2h0M180.1 352.1h0M168.2 329.7h0M600.5 299.9h0M625.8 352.5h0M637.3 304.9h0M606.7 236.4h0M185.8 312.5h0M178.3 259.7h0M188.3 320.9h0M188.6 264.3h0M193.8 217.7h0M225 217.7h0M608.1 297.1h0M201.6 290.2h0M616.1 311.7h0M191.8 283.4h0M183.3 244.8h0M606.3 208.8h0M178.4 350.8h0M601.6 294.6h0M180.4 274.8h0M186.5 294.2h0M172.9 245.7h0M155.5 280.7h0M606.7 326.6h0M614.3 250.5h0M178.9 341.1h0M628.6 213h0M640.5 173.1h0M189.1 293.8h0M621.9 341.7h0M196.6 243.7h0M643.9 348.4h0M165.7 255.5h0M167.3 253.7h0M600.5 299.4h0M181.9 249h0M163.6 275.1h0M186 175.3h0M178.4 282.5h0M180.9 282.2h0M640 310.8h0M685 217.9h0M601.9 250.4h0M207.4 319.9h0M174.9 269.9h0M598.2 302.5h0M184.1 359.4h0M178.2 298.6h0M179.1 277.6h0M184.2 267.2h0M606.5 253.5h0M607.7 271.1h0M620.4 245.1h0M163.5 256.5h0M165.5 251.8h0M611.4 318.4h0M187 352.7h0M175.2 247.5h0M215.2 249.7h0M201.1 296.5h0M616.1 350.4h0M629 214.5h0M601.6 276.3h0M601.8 276.8h0M614.3 207.6h0M167.6 288.6h0M161.1 325.5h0M620.7 381.4h0M173.8 248.3h0M600.3 229h0M655 203.2h0M639.7 186.5h0M184.7 332.9h0M186.9 318.6h0M200.5 285h0M219.6 344h0M616.7 205.1h0M618.9 295.9h0M621.5 214.6h0M634 216.4h0M186.9 312h0M168.5 290.9h0M190.5 301.6h0M598.7 290.1h0M607.7 333.4h0M614.2 319.9h0M176.4 252.5h0M624.5 304h0M615.3 199.5h0M193.9 293.4h0M180 294h0M617 332.5h0M613.2 221.8h0M185.5 376.4h0M197.7 264.2h0M183 368.6h0M614.9 235.2h0M601 242.7h0M181.4 349.9h0M601 309.9h0M603.9 259.2h0M605.7 259.1h0M609.2 321.4h0M607.9 337.7h0M611.2 223.6h0M174.9 261.1h0M186.6 359.6h0M191.6 335.3h0M654.7 174h0M601.8 276.8h0M187.6 323.8h0M197.9 328.4h0M607.7 325.8h0M194.5 243.7h0M183 349.3h0M156 157.7h0M153 206.4h0M200.9 273.3h0M165.7 251.3h0M656.8 190.7h0M155.3 288.6h0M618.5 239.3h0M607.8 234.9h0M175.3 309.5h0M181.7 277.2h0M184.5 274.5h0M193.8 357.2h0M629.5 216.7h0M173.6 298.1h0M626.3 240.9h0M600.5 278.6h0M604.2 307.5h0M599.1 295.5h0M190 283.5h0M600 277.6h0M627 361.2h0M640.7 283.6h0M605.1 322.4h0M611.6 253.4h0M653.5 224.6h0M214.8 298.1h0M194.5 357.1h0M627.8 338.7h0M181 259h0M632 331.9h0M614.9 344.8h0M200.4 205.9h0M613.3 254.2h0M181.2 216.6h0M595 274h0M176.3 350.6h0M164.2 275.6h0M213.9 232.6h0M163.4 291.8h0M176 365.2h0M609.8 247.1h0M619.7 225.6h0M598.8 266.9h0M198.5 279h0" stroke="#CF9F2E"/>
<path d="M866.2 398.1h0M846.9 441h0M876.5 374.7h0M862.5 421.3h0M868.7 383.6h0M220.9 255.9h0M852.5 446h0M876.2 397.9h0M868.1 400.2h0M363.5 389.7h0M882.8 369.2h0M367 427.5h0M351.1 365.2h0M353.6 375.1h0M619.4 325.7h0M394.8 357.8h0M169 277.4h0M603.2 322.1h0M201.7 313.6h0M182.7 320.3h0M607.4 318.9h0M181.5 259.6h0M865.4 388.3h0M612.4 223.7h0M170.7 279.5h0M404.3 418.6h0M184.8 330.5h0M193.3 316.6h0M637.1 370.1h0M364 357.1h0M166.3 248.1h0M371.7 357.6h0M216.4 344.3h0M166.6 233.8h0M189.3 312h0M392.8 401h0M170.6 314.3h0M606.4 250.4h0M179.5 294.7h0M865.4 424.9h0M677.6 331.3h0M382.3 387.8h0M620.9 341.1h0M853.9 404.1h0M858.5 428h0M385.9 465.2h0M373.5 443.9h0M203.8 247.3h0M874.1 396.9h0M857.8 398.1h0M358.8 390.7h0M872.7 373.1h0M862.4 424.2h0M196.9 302.2h0M867.3 368.2h0M599.4 255.3h0M184.6 348.7h0M332.9 289.5h0M213.9 256.3h0M163.6 170.7h0M373.4 369.3h0M184.5 283.3h0M374.4 404.4h0M177.8 237.4h0M334.7 373.8h0M845.4 435.8h0M189.9 301.6h0M198.8 322.2h0M184.1 320.8h0M181.2 243.5h0M353.8 382.6h0M640.1 378.6h0M370.3 396.5h0M627.9 377.9h0M379.7 433.8h0M616 341h0M871.1 378.2h0M357.4 352.4h0M236 264.9h0M359.9 354.1h0M643.7 382h0M182.4 236.3h0M859.8 302.6h0M311 387h0M607.3 304.1h0M814 415.4h0M865.1 380.1h0M201.7 252.5h0M828 456.4h0M367 367.3h0M375 404.7h0M616.6 339.2h0M359.9 375.6h0M345.2 396.5h0M228.1 284.9h0M391.4 393.7h0M878.1 335.4h0M188.1 332.4h0M621.8 310.9h0M165.3 297.9h0M612.7 287.3h0M388.7 432.3h0M356.6 340.7h0M634.5 250h0M374.9 373.3h0M376.8 397.1h0M351 307.8h0M621.8 309.1h0M862.7 385.6h0M387.6 410.8h0M333.8 291.6h0M185.5 245.9h0M604.9 293.9h0M380.7 364.2h0M627.7 309.3h0M859.7 361.9h0M390.3 399.8h0M175 247.7h0M873.1 418.9h0M626.2 353.3h0M373.3 345h0M178 302.7h0M186.7 292.2h0M851.3 440h0M376.5 355.4h0M192.2 296.5h0M825.6 453.1h0M224.9 301.4h0M623.8 361.4h0M189.6 362.7h0M850.4 421.4h0M196.4 327.8h0M197.4 253.7h0M637.4 358.6h0M605 297.3h0M187.8 347.2h0M387.3 423.2h0M883.4 341.3h0M881.4 387.6h0M196.7 264h0M856 409.6h0M602.3 296.8h0M386.7 414.7h0M376 408.6h0M362.9 327.3h0M877.3 392.5h0M618.7 326.6h0M370 439.3h0M849.5 454.1h0M205.7 257.3h0M373 336h0M203.3 254.7h0M377.7 393.4h0M387.9 374.2h0M380.4 385.7h0M849.5 373.6h0M341.8 293.8h0M391.9 416.9h0M374.9 363.4h0M601.9 272.1h0M223.7 221.7h0M861.2 379.3h0M321 335.3h0M173.2 286.7h0M863.4 438.5h0M873 307.1h0M204.9 283.9h0M361.1 395.1h0M352.5 332.3h0M866 278.6h0M161.5 233.5h0M358.2 352.5h0M620.6 275.8h0M391.2 333.8h0M203.8 297.8h0M834.7 462.3h0M858.9 434.7h0M843.8 442.1h0M870.2 416.2h0M374.5 412.6h0M628.7 335.9h0" stroke="#006D2C"/>
<path d="M878.9 160.4h0M421.9 267.9h0M403.8 348.9h0M383.8 237.7h0M898.5 323.2h0M894.9 282.7h0M403.2 268.2h0M434.9 296.7h0M433.3 223.2h0M425.5 301.3h0M904.7 232.7h0M410 245.3h0M877.9 225.1h0M908.9 304.7h0M362.7 221.3h0M902.2 242.8h0M392.3 289.9h0M900.6 180.7h0M407.4 262.1h0M850.9 142.2h0M903.2 307.5h0M898.4 325.2h0M895 355h0M886.4 172.7h0M881 189.2h0M883.6 174.4h0M901.5 232.1h0M835.7 199.3h0M910.2 297.1h0M900.9 239.1h0M402.1 260.5h0M902.3 242h0M399.9 229.2h0M422.7 292.1h0M411.6 321.4h0M900.4 244.5h0M898.1 251.7h0M886.3 201.7h0M402.7 335.6h0M841.2 167.4h0M897.2 223h0M870.7 152.3h0M896.7 306.2h0M408.8 284.3h0M893.2 179h0M909.3 251.2h0M896.3 310.9h0M884.4 181.2h0M364.5 181.3h0M394.9 242.9h0M905.6 218.1h0M875.7 171.4h0M392.5 297.2h0M411.3 283h0M909.5 283.9h0M904.4 212.8h0M379.4 262.8h0M415.9 271.5h0M406.8 299.6h0M391.5 326.6h0M393.5 229.5h0M419.9 253h0M908.7 271.9h0M410.1 321.8h0M847.1 168.6h0M433.6 299.1h0M867.1 172.2h0M338.6 182.8h0M394.8 319.1h0M900.7 256.2h0M419 310.6h0M896.4 235.7h0M400.6 249.9h0M885.8 161h0M401.2 316h0M391.6 257.2h0M900.6 274.3h0M402.8 249.8h0M908.2 280.6h0M356.8 286.5h0M412.1 260.1h0M903.8 259.1h0M398 347.8h0M884.6 253.5h0M859 232.6h0M412.5 245.4h0M896.4 274.7h0M893.1 252.6h0M428.6 279.3h0M414.9 172h0M403.6 241.6h0M893.3 249h0M396.6 205.8h0M899.6 303.4h0M897.4 281.4h0M417 294.8h0M893.7 200.9h0M413.6 239.3h0M400.6 314.8h0M905.8 265h0M892.9 180.7h0M914.8 269.7h0M378.6 183.2h0M391.5 181.9h0M435.4 245.1h0M403.4 278.5h0M872 154.7h0M895.9 303.7h0M403 222.7h0M898.8 200.9h0M902.4 249.9h0M411.9 122.8h0M414.8 335.8h0M392.4 283.6h0M901.7 263.5h0M911.7 282.8h0M901.8 212h0M393.2 312.4h0M897.5 285.8h0M412.4 202h0M894.4 282h0M900.4 283.1h0M878.3 169.3h0M875.2 168.3h0M887.5 174.9h0M901.9 220.9h0M407.4 174.7h0M856.4 203.8h0M906.5 250.4h0M885.8 270.9h0M891.3 175.9h0M886.6 269.7h0M883.5 159.7h0M900 242.2h0M902.7 258.7h0M886.7 223.4h0M885.9 201.6h0M413.2 203.3h0M903.5 210h0M363.4 306.2h0M902.2 211.6h0M400.3 273.4h0M403 266.6h0M895.4 265.3h0M905.4 289h0M894.8 281.6h0M394.3 263.8h0M401.1 240.4h0M899.5 200.9h0M891.3 240.8h0M371 213.1h0M386.7 280.9h0M906.6 262.7h0M887.5 247.2h0M406.7 286.5h0M377.1 300.4h0M905.5 254.7h0M418.8 268.2h0M904.6 293.7h0M437.2 212.6h0M373.5 274.3h0M895.4 328.4h0M895.8 220.5h0M889 297.4h0M374.1 298.1h0M381.6 219.6h0M392 230.4h0M405.9 267.4h0M410.2 290.3h0M400 277.7h0M892.9 178.2h0M894.9 181.1h0M395.9 273h0M413.1 303h0M407 250.8h0M901.3 300h0M860 210.2h0M415.3 298.8h0" stroke="#810F7C"/>
<path d="M600.8 253.5h0M186.7 298h0M660.4 192.4h0M162.1 232.6h0M178.1 335.2h0M615.5 355.7h0M209.3 310.6h0M182.3 312.5h0M168.4 230.5h0M624.7 206.2h0M606.7 304.9h0M599.5 288.3h0M649.7 205.3h0M607 321.6h0M616.8 363.7h0M169.7 198.9h0M187.9 289.5h0M169.7 308.4h0M620.8 252.8h0M597.7 286.2h0M183.7 253.4h0M622.8 224h0M185.3 208.8h0M648.4 310.6h0M173.4 358.8h0M169.5 247.7h0M604.6 316.6h0M159.2 251h0M165.8 260.4h0M613 208.4h0M600 279.1h0M604.2 263.1h0M175.3 349.3h0M638.7 303.6h0M209.6 260.8h0M604.8 287.2h0M606.7 320.4h0M613.6 329.8h0M607.4 297.1h0M190.3 327.5h0M606.7 218.5h0M168.6 278.2h0M152.4 297.5h0M603.3 291.1h0M157.9 238.9h0M177.5 244.7h0M182.6 372.1h0M604.7 306.7h0M604.5 292.4h0M163.2 247.3h0M614.6 223.8h0M194.8 284.8h0M618.5 304.1h0M187.4 247.1h0M607.7 275.2h0M183.6 309h0M182.3 242.4h0M621.8 360.4h0M189.1 343.4h0M166.4 261.9h0M612.1 351.8h0M206.2 307.2h0M629.2 195h0M609.9 240.3h0M599.3 297.1h0M613.8 208.8h0M630.9 176.3h0M211.9 306.4h0M619.7 361.3h0M604.8 276.1h0M175.9 306h0M184.6 288.6h0M164.8 235.3h0M179.5 331.5h0M172 328h0M628.7 187.8h0M178 225.4h0M176.1 230.5h0M608.7 225.3h0M618.2 319.9h0M182.7 319.7h0M165.6 319h0M631 345.3h0M607.5 255.9h0M613.1 257.4h0M161.4 245.2h0M602.1 302.1h0M162.5 347.3h0M190.9 252.5h0M607.2 283.3h0M176.4 236.9h0M166.4 228.5h0M178.5 240.3h0M196.4 334.9h0M644.8 358.1h0M181.9 244.3h0M626.6 202.5h0M189.5 279.2h0M157.2 240.9h0M191.9 218h0M207.9 333.3h0M213.7 279.7h0M184 365.9h0M166.3 273.2h0M619.1 326.2h0M200 320.4h0M186.8 250h0M617.7 239.1h0M204.7 266.7h0M178 329.5h0M641.2 334.4h0M603.9 282.7h0M190.9 296.3h0M151.3 194.8h0M188.9 319.2h0M630.5 314.3h0M189.6 347h0M619.6 335.1h0M600.8 257.2h0M172.6 260.7h0M178.4 298.1h0M612.2 341.9h0M158.7 236.1h0M609.4 209.6h0M608.5 250.3h0M650 166.8h0M614.4 206h0M189.9 280.9h0M647.4 173.1h0M191.5 274.4h0" stroke="#CF9F2E"/>
<path d="M382.9 394h0M375.9 409.2h0M370.4 390.5h0M836.4 404.7h0M174.6 219.7h0M859.3 428.8h0M619.3 367.8h0M625.7 371.2h0M605.9 318.3h0M622.5 322h0M609.4 239.3h0M880.7 354h0M848.7 407.8h0M358.2 379.4h0M381.4 421.3h0M205 293.5h0M384.8 379.9h0M376.5 335.9h0M887.3 354.4h0M188.4 306.9h0M843.3 450.8h0M200 308.8h0M379.3 381.5h0M382.4 354.3h0M368.3 410.4h0M881.3 388.1h0M273 270.3h0M177.6 283.7h0M638.8 363.3h0M872.4 427.1h0M627.4 305.1h0M876.8 377.1h0M210.3 295.9h0M355.3 335.2h0M847.2 428.1h0M858.7 386.9h0M211.2 282h0M865.3 427.7h0M372.1 352.4h0M830.3 393h0M625 313.3h0M191.5 318.1h0M616.7 236.4h0M182.4 351.9h0M203.4 378.5h0M341.3 348.3h0M199.3 344.1h0M229.7 234h0M193.8 347h0M385.7 451.2h0M623.1 330h0M162.1 311.7h0M381.2 340.6h0M847.5 449.6h0M848.5 396h0M187.8 329.6h0M625 351.9h0M602.1 293.1h0M209.3 350h0M847.8 316.8h0M387.3 411.7h0M202.6 336.5h0M355.3 364.3h0M193.2 293.7h0M178.6 310.5h0M363.8 427.7h0M609.9 311.8h0M364 314.7h0M860.2 441.8h0M633.9 309.4h0M372.6 357.6h0M165.7 213.6h0M185.6 291.6h0M873.4 407.7h0M363.7 389.1h0M213 290.8h0M380.6 359.2h0M871.7 423.7h0M887.2 380.9h0M170.7 212.7h0M184.1 377.4h0M175.7 327.4h0M379.4 370.1h0M300 324h0M358.1 383.2h0M217.4 267h0M619.4 347.2h0M191.3 291.5h0M363 425.8h0M627.2 359h0M631.2 308.5h0M850.5 405.5h0M613.5 308.1h0M726.4 294.5h0M610.5 249.7h0M863.8 430.1h0M240.7 284.6h0M185.5 301.5h0M608 308.4h0M384.2 378h0M620.9 374h0M847.7 442.7h0M363.4 385.5h0M386 372.9h0M612.7 347.9h0M871 314.2h0M851 419.7h0M831.3 398.1h0M882.4 359.7h0M878.3 413.1h0M177.5 333.3h0M643.6 337.7h0M874 415.4h0M201.9 250.7h0M181.8 348.9h0M618.1 300.2h0M391 350h0M348.2 347.5h0M176 315.8h0M188.5 302.4h0M182.3 286.6h0M343 353.6h0M869.3 420.8h0M865.7 405.2h0M367.3 310.4h0M396.5 355.7h0M360.3 338.7h0M844.2 439.9h0M353.5 355.4h0M179.6 293.4h0M181 347.7h0M619.3 296h0M354.6 364.1h0M387.2 404.7h0M358 344.6h0M862.8 394.1h0M195.5 228.6h0M877.7 418.3h0M393.1 387.1h0M204.3 279.7h0M196.5 290h0M878.2 319.9h0M385.6 456.6h0M830.1 406.3h0M863.2 383.3h0M186.3 363.5h0M615.3 334.9h0M189 263.9h0M363.2 330.2h0M362.8 369.7h0M607.2 308.1h0M158.3 164.3h0M873.4 406.1h0M337.7 309.9h0M176.3 326.9h0M835.5 414.1h0M614.4 341.3h0M192.5 280.5h0M850.5 437.2h0M383.6 370.7h0M615.4 347.3h0M821.9 471.9h0M388.7 361.2h0M636 341.9h0M600.9 261h0M170.9 269.9h0M620.2 322h0M848.6 435h0M411.7 351.7h0M353.4 341.5h0M181.8 332.1h0M611 322.5h0M371.6 350.2h0M602 266.1h0M351.8 314.3h0M189 371.6h0M867.4 392.2h0M362.7 365h0M739.4 207.6h0M860.3 441.3h0M870 397.5h0M181.9 363.9h0M379.3 445.5h0M604 277.4h0M885.2 307h0M842.1 451h0M613 334.5h0M201.3 294.2h0M624.5 293.1h0M178.5 279.9h0M371.5 376.5h0M628.8 349.3h0M776.5 333h0M873.8 412.6h0M191.8 278.3h0M353.3 366.5h0M353.1 340.2h0" stroke="#006D2C"/>
<path d="M396.4 300.9h0M907.7 236h0M891.6 194.2h0M396.2 270.7h0M376.1 215.5h0M901.3 269.4h0M403.4 259.1h0M396.9 296.9h0M884.8 178.1h0M395.8 261.4h0M386.9 235.8h0M413.3 275.8h0M899.3 200.7h0M386.9 307.7h0M885.5 195.2h0M401.1 311.6h0M384.2 281.4h0M387.4 259h0M411.1 171.3h0M895.1 268.5h0M391.3 224.2h0M425.6 320.7h0M907.9 303.8h0M912.2 262.5h0M382.3 255.5h0M407.7 317.9h0M394.1 184.2h0M890.4 174.9h0M414.3 336h0M900.9 214.4h0M395.4 288.4h0M897 198h0M406.8 255.8h0M392.1 258.2h0M896.8 204.3h0M395.8 297.8h0M384.4 287.3h0M787.9 236.3h0M403.1 250.1h0M890.3 207h0M407.8 253.1h0M887.9 214.5h0M392.5 278.6h0M874 152.1h0M417.7 251.7h0M904.3 310h0M438.3 217.2h0M908.4 282.6h0M883.9 170.2h0M895.6 251.9h0M880.7 160.2h0M912.4 272.5h0M898.4 285.3h0M376.6 197h0M887.4 220.2h0M412 310.3h0M386.6 264.7h0M879.5 204.3h0M413.3 249.2h0M902.8 226.8h0M424.8 272.4h0M402.6 318.5h0M388.7 315.7h0M411.3 310.2h0M895 199h0M904.4 216.7h0M414.3 282.6h0M864.8 220h0M885.8 180.4h0M892.6 196.9h0M873.8 276.5h0M867 196.4h0M855.5 163.2h0M391.4 303.4h0M396.6 283.7h0M416.7 245.5h0M905.2 298.8h0M896.6 218.5h0M401.2 281.8h0M403.3 296.2h0M900.2 242.8h0M399.2 309.9h0M398.3 338.4h0M375.1 308.6h0M901.4 240.4h0M419.7 253.6h0M391 244.8h0M904.6 206.6h0M403.4 270.8h0M408.8 257.1h0M888.5 210.4h0M895.1 235.2h0M856.7 196.1h0M893.1 183h0M899.1 283.2h0M892 225.9h0M351.2 275.5h0M415 241.5h0M408.1 245.3h0M396.1 287.9h0M867.2 147.8h0M354.6 222.5h0M889.8 182.3h0M429.3 322.2h0M901.7 232.4h0M910.8 259.2h0M387 317.2h0M905.2 273.4h0M880.8 181.5h0M892.5 297.3h0M883.6 168.6h0M894.8 298.4h0M402.3 292.1h0M367.6 298.9h0M871.2 218.2h0M863.6 168h0M395.2 272.4h0M868.6 297.8h0M898.4 206.9h0M908 258.7h0M907.6 286.8h0M904.3 301.3h0M866.7 176.8h0M881.1 231h0M357.3 271.8h0M881.3 159.6h0M893.3 271.8h0M899.3 220.3h0M397.4 319.7h0M886.6 221.2h0M387.8 244.7h0M892.8 205.1h0M394.9 294.9h0M391 243.3h0M380 154h0M395.8 353.2h0M398.5 268.9h0M405 209.4h0M420.5 245h0M871.6 166.7h0M384.2 309h0M406.9 273.4h0M414.5 321.9h0M412.1 187.2h0M886.5 153.4h0M902.1 246.3h0M378.1 297.2h0M907.8 299.2h0M420.5 259.6h0M895.7 201.2h0M434.9 219.9h0M907.8 254.8h0M401.8 273.9h0M405 146.1h0M398.9 262h0M427.9 142.6h0M880.9 178.7h0M410.9 277.7h0M387 257.1h0M389.2 247.6h0M883.2 196.2h0M903.4 228.4h0M408.6 258.7h0M428.4 283.9h0M367.5 222.6h0M402.2 301.6h0M908.1 261.9h0M440.7 283.2h0M901 207.9h0M892.9 242h0M897 181.2h0M405.7 337h0M902.8 321h0M402 263.2h0M911.5 281.9h0M895.8 203.5h0M402.4 322.3h0M909.3 273.8h0M904.5 262h0M878.2 252.9h0M907.8 313.5h0M421.8 274.4h0M408.7 315.2h0M865.3 142.5h0M378.6 200.1h0M888.6 271.4h0M440 199.1h0M896.9 336.4h0M424.2 237.6h0M380 278.9h0M849.4 148.8h0M405.5 273.1h0M892.8 204.7h0M888.6 224.8h0M904.2 293.1h0M903.3 211.4h0M900.9 208.1h0M405.4 180.6h0M889.1 219.2h0M429.3 136.3h0M409.7 335.8h0" stroke="#810F7C"/>
<path d="M627.9 348.2h0M628.7 359.3h0M648.3 343.8h0M174 273.6h0M618.6 214h0M176.1 266.3h0M619.3 349.9h0M195.7 282.9h0M614.3 258.9h0M632.4 220.6h0M162 283.7h0M169.8 277.7h0M622.3 258.5h0M606.3 338.6h0M186.5 292.1h0M167.4 290.5h0M176 345.7h0M598.3 288.6h0M614.8 206.2h0M184.8 350.9h0M185.6 253h0M195 276.5h0M605 223.2h0M187.9 371.8h0M185 282.2h0M617.7 240.6h0M190.8 258.5h0M167.4 311.6h0M185 337.4h0M134.3 256.2h0M610.6 310.2h0M656.4 176.8h0M634.5 285.3h0M621.9 331.6h0M191.4 317.3h0M162.5 211.2h0M182.6 326.5h0M607.9 231.3h0M631.8 184.4h0M612.6 205.1h0M602.9 250.9h0M602.1 316.1h0M182.8 252.6h0M188.1 260.1h0M186.8 335.7h0M183.4 375.1h0M630.1 178.9h0M186.3 337.7h0M184.5 270.5h0M187.3 324.4h0M145.8 323.4h0M605.7 274.9h0M173.4 216.2h0M193.9 307.3h0M620.6 337.9h0M621.5 368.2h0M606.5 297h0M620.9 286.5h0M186.4 355.7h0M606.8 301.8h0M649.5 159.7h0M654.9 182.1h0M244 228.7h0M215.4 298h0M180.4 290.9h0M181.4 275.5h0M197.5 332.4h0M614.5 210.6h0M640.1 319.2h0M600.4 274.1h0M615.1 238.2h0M621.4 297.5h0M153.3 178.3h0M603.3 330.3h0M607.8 305.2h0M603.3 235.9h0M624.5 208.9h0M188.8 303.2h0M610 255.7h0M668.5 192.4h0M207.5 253h0M184 224.8h0M191.4 243h0M609.9 284.6h0M608.3 246h0M230.2 258.5h0M618.7 273.6h0M611.7 288.4h0M620.8 285h0M619.1 353.3h0M604.8 238.5h0M633 202.4h0M178.8 339.9h0M632.7 340.1h0M619.8 218.1h0M621.4 303.5h0M180.2 364.8h0M184.4 369.1h0M194.3 220.5h0M601.2 247.6h0M171.2 307.6h0M605.9 241.5h0M172.7 254.3h0M610.9 231.6h0M635.2 291.5h0M605 300.9h0M184.2 324.9h0M197.8 336.1h0M602.6 228.4h0M178.2 322.2h0M182.8 327.6h0M185.9 311.3h0M612.8 213.1h0M595.1 280.5h0M617.7 317.6h0M617.6 234.7h0M616.3 349.6h0M182.4 314.6h0M609 241.5h0M186.7 265.7h0M633.8 273.9h0M186.9 306.9h0M193.7 345.4h0M595 264.8h0M177.7 274.1h0M193.9 301h0M615.7 311.6h0M613.3 324.1h0M610.8 301.1h0M160.2 301.1h0M609.7 267.6h0M172.2 302.3h0M613.6 249.1h0M193.4 266.4h0M616.6 193.8h0M621.8 213.6h0M172 247.2h0M177.4 336.2h0M181.7 222.6h0M181.2 287.6h0M200.3 258.7h0M600.7 299.9h0M603.7 302.2h0M617.7 329.8h0M616.3 372.2h0M171.3 322h0M191.4 306h0M600.6 305h0M182.4 335.1h0M199.7 318.6h0M153.4 296.5h0" stroke="#CF9F2E"/>
<path d="M853.6 439.8h0M878.5 369.6h0M797.6 157.5h0M160.8 202.9h0M370.8 388h0M389.6 388.6h0M874.8 409h0M387.2 341.3h0M359.8 408.4h0M618.8 270.6h0M222.5 288.6h0M181.2 330.4h0M812.1 467.7h0M191.1 339.7h0M213.3 225.5h0M617.6 259h0M377.1 371.2h0M387.3 350.1h0M860.7 418.4h0M863.6 411.6h0M840.4 451.3h0M612.4 302.7h0M376.2 432.5h0M878.3 316.4h0M368.2 361.2h0M617 341.4h0M367.3 382.5h0M619.6 262.2h0M187.9 243.4h0M175.5 347.8h0M617.9 364.8h0M348.7 335.7h0M609.6 334.4h0M866.6 379.5h0M176.5 223.5h0M851.2 342.8h0M602.9 298h0M865.7 359.2h0M370.8 332.3h0M860.7 434.2h0M627 319.9h0M819.4 447.8h0M173 245.7h0M883.8 351h0M878.2 374.2h0M877 394.2h0M847.9 372.2h0M855.6 448.6h0M393.7 384.6h0M874.4 374.2h0M152.3 300.4h0M346.1 372.4h0M172.9 382.3h0M610.6 328.5h0M875.5 373.8h0M604 274.8h0M865.6 427.5h0M370.2 385.1h0M650.9 299.2h0M208.4 244.3h0M375.1 397.9h0M880.7 360h0M605.6 277.1h0M871.3 403.1h0M328.5 312.4h0M183.4 389h0M190.1 363.1h0M625.5 318.3h0M370.4 413.9h0M364.9 329.8h0M187.4 279.4h0M375.6 400.6h0M379.2 410.1h0M353.4 343.8h0M611.7 256.2h0M194.1 305h0M852.3 443.5h0M190.8 297.5h0M368.8 318.9h0M868.2 401.8h0M167.4 242.8h0M209.8 266.5h0M860.5 438.7h0M870.7 377.6h0M351.6 323.1h0M379 356.2h0M208.8 246.3h0M874.4 412h0M828.8 414h0M373.5 387.9h0M146 322.4h0M847 394h0M355.1 329.2h0M354.7 368.4h0M627.4 355.6h0M357.6 328.5h0M183.3 251.6h0M856 429.7h0M873 367.2h0M879.3 295.2h0M399.4 367.6h0M331.5 322.9h0M382.9 380h0M833.8 424h0M858.1 428.4h0M178.5 360.3h0M608.1 311.6h0M363.6 394.4h0M605.6 311.6h0M180.8 222.6h0M609.7 301.3h0M869.6 354.8h0M371.7 371.6h0M394 435h0M606.8 267.4h0M602.4 278.2h0M870.8 364.4h0M358.8 415.9h0M346.4 319.4h0M375.6 368.7h0M623.9 328.3h0M824.2 465.8h0M866.5 401.3h0M200.6 326.4h0M394 397.2h0M189.8 337.4h0M390 373.7h0M179.5 335.4h0M178.1 241.8h0M176.8 300.1h0M614.7 328.3h0M344.3 327.1h0M199.1 357.4h0M189.6 302.8h0M188.2 313.7h0M610.9 271.9h0M182.5 275.2h0M838.5 424.1h0M856.8 388.3h0M817.3 337.1h0M357.8 341.1h0M186.6 319.4h0M635.2 378.9h0M187.6 375.5h0M610 343.8h0M383.2 426.7h0M176.8 349.9h0M853.8 440.2h0M843.8 397.3h0M638 360.9h0M881.1 394.9h0M150 296.8h0M610.7 327h0M382.8 355.3h0M398.6 390.6h0M206.5 289.5h0M184.1 264.4h0M856.3 425.9h0M635.4 350.6h0M374.6 405.9h0M356.3 397.3h0M861.4 347h0M246.4 240.9h0M366.2 369.8h0M374.1 404.9h0M337.5 328h0M859.3 427.9h0M368.2 334h0M363.7 407.3h0M602.6 257.7h0M188.8 309.7h0M387.5 439h0M877.5 359.1h0M879.1 387.3h0M633.8 389.6h0M637.8 312.8h0M181.9 349.8h0M635 354.6h0M165.1 270.5h0M388.6 392.9h0M171.3 368.2h0M866.3 414.7h0M613.9 305.3h0M622.7 328.1h0M878.8 413.6h0M224.3 272.4h0M871 329.9h0M364.7 393.6h0M181.5 314.8h0M622.3 345.7h0M184 347.5h0" stroke="#006D2C"/>
<path d="M904 321.5h0M404.4 251.9h0M904.1 252.5h0M384.1 267.8h0M895.8 182.3h0M373.5 254.7h0M907.1 230.6h0M426 286.5h0M896 310.2h0M406.5 244.2h0M890.2 226.6h0M902.3 261.1h0M894.6 207.3h0M424.5 244.5h0M908.8 299.3h0M901.6 250.4h0M903.9 249.7h0M407.2 297.5h0M398.4 303.1h0M910.5 275.9h0M895.6 270h0M903.7 286h0M416.1 285.4h0M906 264.6h0M903.7 213.6h0M399.2 204.2h0M902.6 245.3h0M903.5 227.1h0M428.1 275.9h0M897.5 272.8h0M375.7 230.8h0M387.9 291.7h0M892.8 224.7h0M400.3 264.9h0M905.6 244.4h0M889.9 195.7h0M404.7 276.9h0M408.1 287.5h0M902.3 244.4h0M885.3 184.6h0M901.8 261.6h0M905.3 259.6h0M841.1 139.3h0M906.4 240.1h0M410.7 245.8h0M909.2 250.2h0M896.1 211.3h0M891.2 192.9h0M902.3 274h0M902.5 221.3h0M885.6 245.7h0M914.2 256.3h0M905.4 271.8h0M366.2 258.9h0M397.5 253.8h0M443.9 257.3h0M903.3 236.6h0M402.6 289.2h0M404.4 257.2h0M378.2 241.2h0M405 320.4h0M881.3 236.2h0M888.5 195.2h0M886 280.1h0M418.3 286.6h0M896.1 300.4h0M429.5 219.3h0M899.9 268.7h0M802.5 379.5h0M897.4 228.9h0M412.4 249.2h0M907.3 275.2h0M869.2 139.2h0M895.4 185.9h0M398.5 282.3h0M387.7 291.1h0M398.2 260.6h0M902.6 292.6h0M898.6 248.9h0M898.9 191.3h0M898.9 276.1h0M368.6 251.8h0M879.2 241.3h0M890.6 252.2h0M898.1 193.8h0M362.1 286.3h0M908.6 238.9h0M905.5 299.2h0M895.8 204h0M413 237.4h0M900.7 247.9h0M395.2 308.1h0M905.3 257.5h0M889 241.1h0M389.6 177.1h0M904.4 289.7h0M909.4 285.2h0M397.6 253.7h0M903.3 229.1h0M888.9 267.1h0M387.4 293.6h0M882.6 155.2h0M898.6 266.2h0M903.4 267.6h0M891.1 229h0M413.4 273.8h0M907.7 288.2h0M364.9 290.9h0M897.1 268.6h0M897.2 255.3h0M902.5 304.6h0M904.1 319.1h0M852.8 138.8h0M417.9 279.6h0M396.5 191.2h0M909.4 256.8h0M897.7 263.4h0M880.5 198.4h0M910.4 248.4h0M894.5 282.6h0M420.5 266.9h0M385.2 289.5h0M430.6 282.2h0M907.4 230.8h0M896.2 325.7h0M899.8 280.6h0M394.7 268h0M908.2 232.2h0M387 297.2h0M423.1 274.2h0M394.6 314.9h0M905.9 248.2h0M897.6 222.8h0M895.5 233.3h0M886.9 210.3h0M900.1 289.9h0M897.6 263.4h0M429 162.1h0M860.4 150.7h0M843.5 203.6h0M412.8 294.3h0M880.5 329.5h0M897.9 322h0M891.5 271.1h0M899.8 234.8h0M905.5 303.3h0M898.2 195.1h0M881 224h0M397.6 293.8h0M417 299.5h0M900.4 290.9h0M398.2 236h0M889.9 214.5h0M398.9 262.4h0M409.8 261.7h0M889 251.5h0M879.6 185.2h0M905.8 261.6h0M905.1 227.5h0M396.1 299.8h0M907.5 287.2h0M411.4 247.1h0M899.6 210.7h0M857.6 138.7h0M439.2 208.1h0M886.4 211.7h0M855.9 292.4h0M401.5 242.3h0M387.8 217.8h0M412.8 321.8h0M890.2 242.4h0M903.5 281.8h0M888.5 206.5h0M908.8 286.9h0M900.7 294.2h0M909.8 270.5h0M880.3 305.1h0M903.2 245.7h0M895.1 214.3h0M889.7 277h0M399.8 314.9h0M401.6 267.6h0M380.1 295.4h0M899 276.2h0M404.8 247.8h0M395.7 314.1h0" stroke="#810F7C"/>
<path d="M599.6 257.7h0M189.7 327.4h0M201.2 325.6h0M609.9 222.7h0M620.6 272.9h0M604.1 284.5h0M633.7 241.8h0M615.3 323.5h0M604 271.6h0M613.1 245.5h0M192 301.8h0M183.5 371.4h0M615.4 302.7h0M632.1 247.6h0M617.6 267.6h0M191.4 294.5h0M630.1 332.2h0M617.7 354h0M165.8 281.9h0M616.9 198.5h0M628.4 175.3h0M612.5 320.4h0M194.6 279.7h0M613 294.8h0M618.3 198.5h0M597.4 263.9h0M605.1 319.9h0M154.5 279.8h0M626.7 367.7h0M201.3 252.5h0M179.1 364h0M631.2 186.1h0M175.7 288.9h0M625.5 270h0M617.8 197.1h0M615.4 216.7h0M196.8 216.6h0M618.9 343.2h0M611.5 264.3h0M656.7 209.9h0M173.6 292.4h0M610 258.6h0M164.7 264.9h0M602.1 306.5h0M655.9 345.7h0M175.5 280.6h0M171.7 268h0M187.5 264.4h0M182.3 381.2h0M613 274.7h0M621.6 199.1h0M627.4 288.4h0M648.1 192.8h0M628.7 223.1h0M210.5 244.7h0M601.1 314.3h0M181.8 372.4h0M609.5 242.8h0M623.4 329.7h0M603.8 249.8h0M164 280.5h0M162.7 221.3h0M191.7 175.7h0M184.6 363.7h0M156.2 273.6h0M206.6 264.7h0M600 259h0M617.6 204.7h0M179.3 276.1h0M165.4 250h0M635.5 231.9h0M185.3 308.5h0M206.1 286h0M180.4 316.4h0M617.5 270.5h0M603.1 308.7h0M607.7 314.5h0M158.4 327.1h0M618.8 265.7h0M173.5 266.8h0M180.9 304.1h0M194.8 343.2h0M623.4 222.6h0M182.2 372.2h0M596.4 281.6h0M169.6 317h0M624.6 341.8h0M602.3 322h0M629.8 329.3h0M620 234.2h0M637.4 243.5h0M153.6 289.5h0M168.7 313.4h0M609.9 289.9h0M618.8 283.6h0M158.9 276.6h0M203.7 170h0M610.5 328.9h0M180.8 342.4h0M191.1 353.1h0M607.8 244.1h0M192.8 281.1h0M176.9 279.6h0M633.5 355.8h0M608.3 298.8h0M617.4 313.9h0M171 325.9h0M170.5 310.2h0M614.1 290.7h0M649.9 186.7h0M162.6 233.9h0M616.1 218.2h0M609.1 297.2h0M183.1 284.7h0M191.8 347.3h0M607 241.8h0M190.2 332.3h0M655.1 200.1h0M194.3 265.6h0M622.9 324.7h0M193.1 344.8h0M204.3 260.8h0M621.9 336.4h0M616.2 283h0M160.8 282.3h0M611 314.8h0M200.1 236.4h0M610.1 227.3h0M611.8 226.6h0M608.5 314.3h0M610.8 220.1h0M602.7 288.5h0M607.4 312.1h0M642.9 362.8h0M177.2 293.7h0M633.8 321.2h0M611.1 348.8h0M176.7 215.5h0M614.3 312.1h0M200.9 262.2h0M180.6 328.8h0M196.4 307h0M192.5 290.1h0M210 304.8h0M620.3 313.7h0M174.4 318.3h0M177 267.2h0M610.8 238h0M169.5 261.5h0M166.2 189.8h0M615.1 209.8h0M614.1 347.2h0M177 236.3h0M601.2 276h0M178 322.9h0M168.4 237.3h0M173.8 369.8h0M167 236.4h0M202.7 280.7h0" stroke="#CF9F2E"/>
<path d="M615.5 328.5h0M876 402.8h0M874.1 408.7h0M166.1 347h0M239.3 266h0M842.5 286.4h0M370.1 416.3h0M178.7 322.2h0M189.5 241.9h0M872.8 367.8h0M380.4 426.5h0M371.8 375.5h0M861.5 441.8h0M191.2 336.8h0M871.7 262.9h0M872.5 407.8h0M879 394.2h0M351.5 413.3h0M378 392.4h0M378.4 409.5h0M639 363h0M346.7 311.1h0M371.9 344.2h0M237.3 280.7h0M648.5 408h0M188.3 377.1h0M375.9 345.1h0M885.4 377.1h0M878.7 420.5h0M877.8 388.3h0M363.8 388.3h0M607.7 315.5h0M387.5 418.6h0M381.6 419h0M373.3 397.7h0M192.2 300h0M183.2 347.9h0M880.3 363.3h0M355.3 398.8h0M377.4 370.1h0M599 295.3h0M869.3 400.9h0M394.1 378.8h0M180.8 302.5h0M220.1 270.8h0M612.6 329.9h0M361.5 302.6h0M379.9 382.4h0M344.6 326.2h0M598.4 258.6h0M856.6 447.3h0M875 362.9h0M200.3 308.2h0M378.4 417.1h0M357.4 315.6h0M363.8 328.6h0M636.7 338.5h0M184.6 347.3h0M614 328.9h0M857.4 408.9h0M190.1 326h0M189.8 333.7h0M614.2 351.2h0M358 363.2h0M375.4 391.4h0M849.1 448.3h0M869.1 376.7h0M604.2 276.1h0M181.8 335.9h0M869.7 396.1h0M872.9 396.9h0M878.5 390.8h0M639.6 288.5h0M870.3 400h0M625.8 288.8h0M185.7 317.1h0M632.3 372.3h0M350.5 304.2h0M194.1 375.7h0M750 347h0M624.2 332.2h0M833.8 272.5h0M607.2 262.6h0M368.9 312.4h0M832.6 461.2h0M199.6 268.2h0M867.8 407.3h0M277.3 239.7h0M616.9 213.2h0M349.3 378.8h0M388.2 399h0M829.7 465.6h0M187.9 299.2h0M409 394h0M613.2 294.4h0M843.7 379.7h0M383.3 393.2h0M866.2 383.6h0M184.2 277.2h0M622.6 239.1h0M393.4 390.4h0M170.2 347.8h0M339.9 300.5h0M789 418h0M377.6 425.2h0M866.1 385.2h0M374.1 355.9h0M362.1 364.9h0M871.1 400.7h0M367.6 404.5h0M378.3 353.5h0M157.7 286.4h0M178.7 276.5h0M340.1 298.5h0M875.9 414h0M354.7 378.5h0M193.2 298.3h0M170.5 224.2h0M182.2 262.5h0M178.7 395.1h0M608.9 333.8h0M872 377.8h0M611.2 277.3h0M217 277.6h0M882.5 368.4h0M878.7 375.2h0M372.7 314.2h0M355.5 378.3h0M157.4 303.7h0M609.7 313h0M217.8 338.2h0M600.6 283.2h0M844.6 427.4h0M203.6 342.7h0M780.5 306.4h0M389.3 435.6h0M382.8 357.9h0M865.4 431.1h0M613.1 301.6h0M859.7 447.2h0M187.1 283.2h0M854.5 449.5h0M393.5 434.5h0M358.8 379.7h0M383.2 396.5h0M821.8 374.8h0M851.4 416.3h0M872 373.9h0M682.5 319.5h0M859 395.7h0M353.7 313.5h0M864.4 382h0M365.4 423.7h0M408.2 357.8h0M381.4 388.6h0M695 353h0M876.8 394.7h0M863.4 438.2h0M601.2 296h0M643.9 352.2h0M628.7 381.3h0M161.1 263.5h0M191.5 338.7h0M225.2 287.1h0M200.3 344.1h0M799 385.9h0M867.8 369.1h0M624.9 254.9h0M684 385.5h0M194.3 324.2h0M870.4 408.8h0" stroke="#006D2C"/>
<path d="M365.1 290.6h0M395.1 257.2h0M409.3 178.5h0M392 300.3h0M891.5 328h0M414.4 264.3h0M414 333.2h0M413.3 262.3h0M896.5 287.1h0M406.6 217.6h0M875.2 150.4h0M399.3 300.2h0M895 212h0M900.8 289.9h0M884.9 173.8h0M906 231.2h0M908.4 263.1h0M389 285.6h0M879.7 251.9h0M437 271.6h0M402.2 333.2h0M403.8 336.9h0M907.7 261.2h0M420.8 252.3h0M893.4 200.9h0M401.3 281.3h0M367.6 246h0M889.6 196h0M908.9 267.8h0M382.1 267.2h0M900.3 284.4h0M908.9 267.5h0M392.5 275.2h0M421.2 315.1h0M899.6 231.9h0M861 160.6h0M390.3 342.3h0M905.4 296.3h0M405.3 184.9h0M422.3 264.5h0M895.6 326.5h0M892.2 328.3h0M894.1 301.7h0M891.5 277.9h0M888.1 186.5h0M899.5 203.9h0M893.4 247.8h0M397.9 298.6h0M903.2 213.5h0M347.8 242.4h0M410.4 263.8h0M905.9 231.9h0M898 206.8h0M895.6 279.1h0M908.4 226.5h0M904.5 231.7h0M901.2 228.2h0M873.8 235.9h0M445.8 266.3h0M897.7 250.9h0M424.4 313.5h0M398.4 272.3h0M902.6 202h0M908.5 279.7h0M424.2 237.3h0M394.4 319h0M904.5 209.2h0M418.2 264.5h0M420.3 307.2h0M404.2 206.3h0M897.8 198.1h0M909.7 250.7h0M434.4 256.6h0M898.9 279.4h0M899.8 338.3h0M400.2 316.3h0M397.2 296h0M902.8 289.8h0M900.6 203.2h0M406.8 286.9h0M441 193.5h0M397.8 293.8h0M380.1 293.7h0M882.3 185h0M865.3 181.6h0M382.7 281.2h0M382.5 255.7h0M876.3 209.9h0M403.5 265.8h0M896.3 277.6h0M910.1 259.9h0M894.3 205.1h0M906.4 272.8h0M407.7 260.7h0M437.8 233.2h0M414 294.5h0M878.4 166h0M865.3 170.5h0M393.3 314.3h0M906.9 264.1h0M395.6 175.3h0M396.4 320.7h0M889.2 184.7h0M889.2 207.1h0M399 309.7h0M901.4 300.9h0M901.9 214.2h0M417.7 265.9h0M377.9 211.4h0M901.5 328.4h0M391.3 286.3h0M408.3 277.4h0M419.8 325.4h0M898.3 282.1h0M417.9 268.3h0M331.5 200.9h0M396.3 269.2h0M894.7 199.8h0M850 210.9h0M892.7 207.3h0M412.1 333.4h0M887.4 296.8h0M886.6 170.9h0M364.6 247.6h0M903.5 205h0M904.8 301.6h0M901.1 231.2h0M433.9 269.1h0M901.4 320.3h0M394.3 326.9h0M381.9 245.7h0M905.4 218.5h0M897.4 244.9h0M409.2 291.8h0M396.3 251.4h0M412.1 247.9h0M375.6 257.2h0M415.1 296.2h0M909.9 299.2h0M382.2 274.5h0M840.2 153.8h0M888.6 183.3h0M889.2 200h0M402.9 278.2h0M392.3 274.8h0M391.6 203.6h0M417.3 259.8h0M411.9 136.9h0M904.1 213.6h0M388.1 269.7h0M415.8 247.2h0M898.7 228.8h0M874.2 228.4h0M865.8 243h0M403.4 249.5h0M428.7 185.5h0M890.7 203.8h0M901.4 255.8h0M896.3 302h0M427.4 188.5h0M908.9 232.3h0M908.7 270.3h0M900.3 331.7h0M396.2 175.8h0M909.9 272.5h0M874.6 155.9h0M895.7 192.8h0M891.4 276.1h0M895.8 226.8h0M412.9 247.8h0M406.4 266.5h0M401.6 314.8h0M391.3 309h0M904.2 297.1h0M902.9 226.4h0M403.5 248h0M886.4 198.5h0M887.9 165.1h0M904 240.1h0M877 189.1h0M416.8 247.6h0M424.5 298h0M877.5 150.7h0M912 255.9h0M903.7 276.1h0M431 312.5h0M896.1 283.7h0M419.4 283h0M401.5 321.1h0M400.3 298.3h0M412.4 236.9h0M392.9 300.1h0M403.6 303.5h0M412.1 264h0M432.1 231.4h0M413.4 245.5h0M899 215.4h0" stroke="#810F7C"/>
<path d="M634.6 273.1h0M630.1 198.5h0M618.1 349.7h0M636.5 213.7h0M191.6 328.4h0M626.3 218.3h0M181.3 317.2h0M185 329.2h0M163.8 292.6h0M602.3 252.1h0M160.1 260.7h0M608.8 326h0M161.7 153.3h0M610.5 315.1h0M180.1 214.3h0M180.1 302.7h0M168.5 233.6h0M167.5 303.3h0M165.1 269.9h0M636.8 171.4h0M620.5 195.9h0M187.6 303h0M153.7 292.4h0M618.1 362.4h0M192.7 249h0M170.3 249.4h0M184.9 368.7h0M178.3 340.2h0M601.5 278.7h0M190.3 296.7h0M609.5 324.8h0M731.7 261.6h0M605.3 330.4h0M598.9 292.7h0M181.4 333.3h0M180 283.6h0M601.2 249.1h0M617.5 332.3h0M612.9 308.1h0M156.8 199.1h0M633.6 351.8h0M607.5 220.5h0M602.5 291.2h0M182.6 272.1h0M217.5 290.1h0M177.7 286.3h0M624.5 317.8h0M600.5 265h0M624.5 377.7h0M180.8 384h0M179.1 351.3h0M643.2 310.3h0M622.6 360.7h0M603 242.6h0M602.6 241.6h0M613.8 200.6h0M647.4 189h0M190.1 324.9h0M180.4 339.4h0M170 309h0M178.3 333.6h0M166.3 328h0M614.5 247.5h0M630.9 240.6h0M190.9 346.2h0M657.5 161.8h0M631.7 177h0M183.9 255.7h0M191.8 362.3h0M196.8 313.8h0M635.5 351.9h0M666.3 341.8h0M172.5 333h0M211.1 287.8h0M184.8 306.1h0M207.9 262.6h0M608 323h0M624.3 333.9h0M608 338.8h0M201.9 293.5h0M599.9 303.5h0M601.8 290.1h0M609.5 264.3h0M168.7 252h0M168.7 211.6h0M177.9 345.5h0M625.1 206h0M190 205h0M188.3 321.4h0M605.7 285h0M179.6 294.4h0M164.3 360.6h0M623.9 369.8h0M616.2 240.6h0M166.3 298.2h0M160.9 259.4h0M617.3 290.3h0M175.8 357.4h0M622.2 204.8h0M619.2 263.1h0M611.1 332.1h0M180.1 321.1h0M617.9 308.2h0M601.6 323h0M612.9 290h0M176.9 346.3h0M239.2 296.2h0M608.1 253h0M179.3 292.2h0M607.5 327.8h0M607.4 280.4h0M182.2 319.8h0M641.9 173.7h0M166.3 276.4h0M177.2 257.3h0M232.3 242.3h0M609.3 271.5h0M612.9 324.1h0M182.3 342.1h0M196.1 244.2h0M147.3 186.3h0M649.1 205.3h0M607.9 329.3h0M608.3 322.6h0M190.8 336.6h0M604.2 305.6h0M601.4 297.8h0M609.9 260.9h0M666.5 375.5h0M159.6 223.3h0M168.3 192.7h0M185.4 337.9h0M187.2 335.5h0M180.3 281.5h0M184.3 243.2h0M624 177.2h0M637.6 174.7h0" stroke="#CF9F2E"/>
<path d="M605.3 231.2h0M378.6 431.7h0M871.4 372.4h0M380.4 342.5h0M346 342.3h0M198.3 293h0M178 302.1h0M840.3 401h0M245 264.7h0M615.2 253.5h0M885 358.9h0M142.9 308.2h0M406.8 360.6h0M202.9 318.9h0M620.7 358.3h0M634.3 304.1h0M868.7 420.9h0M874.1 391.4h0M379.6 350.3h0M378.9 347h0M335.9 315.2h0M386.3 329.9h0M361.2 342.2h0M193.6 269.9h0M632.9 367.2h0M883.7 373.3h0M856.9 446.8h0M609.6 335.8h0M867.6 429.7h0M746.3 246.9h0M343.9 324h0M230 234.6h0M632 369.9h0M875.7 414.1h0M189.9 285.2h0M360.3 388.6h0M844.7 449.8h0M636.3 347.8h0M824.4 351.2h0M862.6 419.3h0M613.7 308.4h0M366.4 378.1h0M354.5 352.8h0M653.3 358.3h0M882.4 342.7h0M613 220.3h0M365.7 376.9h0M178.4 336.1h0M883.5 382.6h0M334.2 334.4h0M366.7 391.2h0M607.4 277.7h0M610.4 308.9h0M614.6 269.4h0M805 405.1h0M611.1 285h0M619.2 333.1h0M861.7 320.1h0M350.8 310h0M624.8 285.6h0M170.8 267.2h0M185.7 345h0M881.4 372.1h0M854.4 448.3h0M600.1 284.3h0M876.3 381.7h0M356.2 360.3h0M364.1 325h0M614 326.5h0M191 314.2h0M610.9 290.8h0M378.8 353.4h0M618.4 351h0M609.2 312h0M623.5 301.4h0M601.1 258h0M605.3 279.8h0M880.4 363.2h0M393.3 416.9h0M880.9 354.6h0M192.8 209.3h0M868.5 329.2h0M863.4 331h0M615.5 318.7h0M187.6 284.9h0M852.3 436.2h0M351.4 364.2h0M371.7 374.1h0M371.1 388.5h0M608.6 315.3h0M165.8 278.4h0M857.7 372h0M640.3 365h0M349.2 400.6h0M856.2 286.9h0M179.8 256.8h0M864.2 398h0M880.2 367.7h0M186.9 295.6h0M857.7 428.9h0M867.5 361.2h0M336.5 291.8h0M196.3 268h0M194.3 251.2h0M197.7 270.6h0M386.5 413.5h0M173.2 300.4h0M187 319.4h0M624.7 360.1h0M374.2 375h0M856 397.8h0M389.2 377.6h0M615.3 347.1h0M820.2 451h0M866.2 420.1h0M834.6 351.1h0M169.3 359.8h0M390.7 408.6h0M206.7 326.1h0M865.9 407.8h0M878.5 332.7h0M877 415.9h0M599.7 272.8h0M372.5 373.6h0M611.6 305.1h0M608.7 272.2h0M366.7 318.5h0M164.5 299.9h0M648.5 413h0M774 457h0M363.6 368.8h0M170.8 307h0M860.1 417.7h0M171.3 333.9h0M616.5 290.9h0M195.8 310.7h0M844 456.3h0M381.3 368.2h0M368.3 365.2h0M194.2 328.5h0M880.1 357h0M372.8 395.7h0M617.6 359.6h0M186.5 363.1h0M641.6 305.2h0M195.7 332.3h0M382.2 442.3h0M376.5 325.6h0M871.9 333.1h0M330 387h0M878.6 400h0M864.5 403.5h0M381.3 347h0M861 399.3h0M336.8 356.3h0M192.2 295.7h0M346.7 333.8h0M190.8 254.4h0M230.2 155.7h0M377 334.4h0M610.4 246.8h0M356.5 349h0M178 285.6h0M872.4 367.9h0M611.7 297.3h0M847.1 360.6h0M370.9 370.9h0M194 352.6h0M352.9 317.4h0M883.5 340h0M857.1 404h0M628.5 370.7h0M858.4 435.1h0M379.7 396.9h0M191.2 283.4h0M874.4 384.3h0M869.8 388.4h0M381.4 376.6h0" stroke="#006D2C"/>
<path d="M890.8 284.7h0M406.1 193.2h0M377.8 285.4h0M903.9 296.2h0M906.3 310.5h0M386.8 219.5h0M899.2 203.1h0M411.6 343.9h0M402.9 340.2h0M883.2 175.3h0M905.6 313.8h0M912.9 257.4h0M888.9 176.4h0M879.1 159.1h0M891.8 236.6h0M409 275.6h0M397.2 337.7h0M887.9 231.3h0M385 281.1h0M903.6 236.8h0M412.6 284.3h0M903.7 257.2h0M903.6 302.1h0M907.5 253.1h0M905.1 264.5h0M403.5 333h0M891.9 184.3h0M406.9 252.9h0M873.9 188.7h0M882.5 161.5h0M414.6 206.1h0M444.2 273.2h0M406.3 238.6h0M905.8 296.5h0M886.6 177.2h0M404.4 309.8h0M402.6 190.9h0M406.6 247.3h0M884.9 153.8h0M895.1 290.6h0M430.2 312h0M895.7 361.3h0M369.8 273.6h0M881.2 234.3h0M394 285.1h0M888.9 179.5h0M900.8 186.7h0M410.8 254.2h0M874.4 244.5h0M904.2 274.6h0M417 257.5h0M408.8 219.7h0M908.8 314.9h0M396.6 264.1h0M411.5 252.1h0M901.2 262.4h0M358.8 217.8h0M395.2 314.8h0M900.5 258.5h0M885.3 224.7h0M894.7 249.2h0M406.3 324.4h0M413.3 292.6h0M907.8 229.2h0M885.3 203.4h0M905.4 248.4h0M342.6 226h0M408.1 251h0M891 202.7h0M897.7 211.7h0M419.5 156.4h0M897.8 206.8h0M411.9 250.5h0M794 281.7h0M394.3 260.1h0M908.2 235.2h0M367.5 187h0M907.7 245h0M389.9 256.7h0M905.9 283.8h0M903.6 293.4h0M905.7 239.5h0M409.4 283h0M397.4 334.3h0M867.2 278.9h0M893.5 202.1h0M871.3 177.4h0M423.4 267.7h0M901.2 320.2h0M870.5 282.5h0M403.9 318.9h0M913.2 296.8h0M378.4 264.1h0M893.9 293.8h0M887.6 208.2h0M906 277h0M434.9 248h0M906.8 253.1h0M906.8 231.8h0M904.4 297.7h0M407.3 334h0M902 231.8h0M438.2 233.9h0M397.9 212.5h0M896.2 181.9h0M890.2 205.1h0M397.7 304h0M402.2 318.5h0M384.2 273.3h0M411.7 329.1h0M444.2 220.2h0M388.9 279.2h0M417.1 301.5h0M902.3 252.7h0M391.8 268.6h0M403.5 308.8h0M372.5 277.4h0M396.3 289.2h0M895.4 273.8h0M412.1 246.5h0M408 305.2h0M423.9 284.9h0M416.9 244.5h0M403.2 207.2h0M412.3 306.4h0M891.2 300.3h0M907.1 219.3h0M889.3 201.5h0M393.5 328.2h0M905.2 214.4h0M904.2 261h0M880.8 209.3h0M891.5 272.9h0M379.6 190.3h0M394 244h0M446.3 196.5h0M888.3 211.7h0M891.9 289.1h0M904.6 206.3h0M898.2 222.8h0M418.9 283h0M892.4 185.4h0M902.7 319.3h0M399.4 315.1h0M426 291.9h0M418.6 246.9h0M885.8 198.6h0M380.8 266.6h0M393.9 275.4h0M432.5 254.9h0M405.9 295.9h0M905.4 247.9h0M415.5 207.9h0M381.6 278.8h0M391.1 315.9h0M400.3 224.4h0M903.3 208.2h0M417.6 254.7h0M402 320h0M898.2 296.5h0M910.5 241.3h0M899.1 205h0M397.6 242.6h0M900.1 213h0M413.1 257.4h0M873.8 177.3h0M899.8 242.1h0M419.7 202.8h0M905.4 252.5h0M900.6 217.5h0M873.6 236.9h0M427.3 283.4h0M900.9 274.4h0M424.2 236.6h0M862.7 151.4h0M911.2 282.8h0M864.8 165.6h0M898.7 229.1h0M425.1 244.1h0M418.8 288.1h0M890.1 271.8h0M406.7 213.8h0M389.5 269.9h0M884.4 177.8h0M900.3 220.4h0M906.3 235.7h0M905 255.9h0M910.7 242.3h0M402.4 270.8h0M912.6 267.3h0M405.2 280.7h0M417 154.6h0M412.5 278.1h0M846 126h0M907.4 269h0M399.8 196h0M894.7 263.8h0M412.2 325.1h0M903.4 197.7h0M907.7 259.2h0M903 258.4h0M887.2 287.9h0M416.5 253.9h0M423.7 273.8h0M903.6 248.9h0M374.3 291.5h0M817.9 218.6h0M394.3 328.1h0M900.6 260.1h0M900.6 294.1h0M892.3 260.5h0M433.2 292.8h0" stroke="#810F7C"/>
<path d="M181.5 263.3h0M211.4 268.5h0M177.4 251.4h0M676 356.5h0M624.5 237.8h0M611.3 348.8h0M184.1 286.4h0M626.7 326.5h0M627 197.8h0M176 251.1h0M198.8 273.2h0M596 260.5h0M196.5 330.6h0M175 356.1h0M600.8 259.2h0M655.7 193.8h0M609.3 245.7h0M602.6 298.7h0M628.6 344.7h0M194.1 319.7h0M178.2 255.1h0M159.9 252.6h0M641.3 276.5h0M173.3 269.1h0M169 272.5h0M176.7 304.3h0M186.3 318.6h0M611.7 295.3h0M169.2 329.9h0M180.6 266.8h0M606.4 325.7h0M191.1 354.8h0M204.4 285.6h0M179.8 358.7h0M197 206.6h0M168.2 223h0M178.9 272.5h0M612.7 253.9h0M179.1 350.8h0M183.3 318.2h0M189.1 323h0M607.4 259.3h0M174.4 320.8h0M613.8 222.7h0M199.5 313.6h0M188.8 324.2h0M596.7 259.1h0M187.9 337.9h0M184.7 328.5h0M605.5 254.6h0M628.5 247.9h0M622.3 203.4h0M177.6 272.2h0M195.6 304.8h0M183.4 336h0M601.2 312.6h0M183 282.2h0M160.1 264.8h0M183 286.1h0M620.9 372.1h0M642.4 252.1h0M624.8 275.7h0M225.3 268.4h0M187.1 360.5h0M192.7 335.1h0M608 272.4h0M154.5 284h0M183.3 246.9h0M182.8 329.9h0M151.9 324.1h0M645.7 187.2h0M223.6 382.2h0M615.8 291.5h0M641.5 271.2h0M179.2 318.2h0M194.7 270.3h0M154.6 261.6h0M613.1 280.7h0M601 307.5h0M643.9 351.9h0M608.7 218.8h0M607.9 250.4h0M167 250.7h0M609.4 324.4h0M628.6 326.3h0M626.2 323.6h0M601.8 234.4h0M612.7 276.7h0M187.6 290.1h0M624.6 381.2h0M617.4 345.7h0M615.6 346.3h0M172.3 214.3h0M633.2 223.6h0M197.3 279.5h0M604.4 317.6h0M604 298.1h0M597.7 283h0M175.5 333.8h0M623.8 204.5h0M608.8 212.8h0M175.3 348h0M185.2 270.2h0M184.9 263.6h0M600.3 257.7h0M610.5 285.8h0M185.6 367.7h0M216.2 289.3h0M188.6 297.1h0M179.5 302.7h0M602.1 272h0M646.4 202.7h0M622.2 260h0M625.8 170.5h0M173.1 288.6h0M624.1 194.4h0M615.3 335.2h0M189.6 311.6h0M635.1 354.5h0M199.5 238.2h0M602.1 308.4h0M610.5 273.3h0M195.6 277.2h0M169.5 248.1h0M179.1 272.5h0M191.1 341.5h0M603 232.3h0M603.5 249.9h0M188.6 219.7h0M187 369.9h0M604.8 317.8h0M191.6 372.4h0M609.6 258.8h0M190.5 348.2h0M183.5 261.4h0M244 224.3h0M163.7 248.1h0M623.4 256.2h0M191.8 300.3h0M162.3 171h0M166.8 311.7h0M608.4 272.8h0M183.3 333.4h0M198.3 268.5h0M195 312.1h0M182.9 357.5h0" stroke="#CF9F2E"/>
<path d="M620.8 351.6h0M625.1 329h0M854 448.8h0M186.9 367.1h0M203.2 299.6h0M874.5 408.3h0M873.4 395.8h0M621.4 340.2h0M385.2 333.5h0M856.9 448.1h0M188.9 261.2h0M613.8 288.1h0M379.4 369.2h0M189 338.4h0M184.2 313.9h0M837 427.4h0M182.9 359.3h0M360.5 359.2h0M629.7 302.3h0M868.2 415.3h0M607 294.3h0M180.6 295.5h0M354.2 317.9h0M822.9 398.1h0M860 417h0M640.3 275.6h0M163 326.1h0M612.3 293.4h0M330.2 290.1h0M344.3 392.2h0M161.1 293.8h0M620.5 307.1h0M371.9 406.8h0M849 446.3h0M609.5 253h0M388 366.1h0M378.8 371.4h0M182.5 297h0M886.8 383h0M358.8 390.5h0M162.2 327.8h0M870.5 402.4h0M883.2 316.4h0M627 368h0M190.3 314.3h0M376.9 351.2h0M387.9 386.5h0M177.2 295.4h0M195.6 284.8h0M618.2 344.3h0M366.3 348.5h0M611 227.3h0M370.1 354.6h0M882.6 390.4h0M870 414.5h0M190.7 261h0M611.9 285h0M380.4 333.5h0M847.9 450h0M380.5 350.5h0M181.7 225.8h0M608 260.6h0M385 351.8h0M368.9 395h0M857 421.6h0M353.4 397.2h0M391.9 376.3h0M612.5 305.1h0M878.5 401.6h0M866 310.8h0M345 338.4h0M180.1 352.3h0M389.5 349.7h0M186.9 279.6h0M195 294.3h0M372.6 369.9h0M613.9 292.2h0M863.6 360h0M372.3 413.3h0M192 300.1h0M177.6 300.8h0M354.9 343.6h0M382.8 407.8h0M635.3 372.6h0M850.8 391.4h0M363.6 352.3h0M362.7 408.4h0M379.6 344.4h0M879.1 409.9h0M196.8 299.8h0M372.3 400.7h0M842.5 396.5h0M869.4 364.7h0M384.5 372h0M620.4 352.7h0M857.5 426.5h0M364.4 317.9h0M838.6 464.4h0M163 343.7h0M368.7 336.4h0M617.1 301.4h0M371.4 394.2h0M367.1 364.7h0M380.1 336.6h0M374 334.6h0M851.1 340.9h0M620.5 362.1h0M870 424.4h0M374.6 365.5h0M395.6 380.6h0M833.5 446.4h0M378.6 428.8h0M877.7 378.1h0M848.1 452.1h0M355.5 373.8h0M855.1 289.7h0M600 262.4h0M871.7 350.9h0M865.9 428.3h0M888 356h0M821 452.3h0M181.7 341.1h0M357.4 350.4h0M185.1 344.5h0M617.7 342.2h0M207.1 339.7h0M725.8 288.8h0M375.2 345.8h0M199 199.7h0M390.1 389.8h0M371.3 361.3h0M625.1 367.3h0M377.4 346.8h0M865.3 393.7h0M841.6 356.4h0M183.9 324h0M640.5 247.8h0M219.8 304.1h0M616.3 312.3h0M355.2 311.7h0M857.3 420.2h0M383.6 457.3h0M879.5 377.2h0M864.6 348.6h0M163.9 299.5h0M346.1 310h0M867.1 390.4h0M360.6 360.5h0M873.8 413h0M861.8 438.5h0M629.8 375h0M230.3 210.7h0M877.5 376.6h0M613.1 222.7h0M607.9 310.8h0M849.1 392h0M343.5 290.9h0M836 276.6h0M399.2 410.6h0M620.4 270.8h0M360.5 335.7h0M343.4 291.8h0M332.4 292.6h0M601.1 289.7h0M863.1 416.9h0M194.2 361.7h0M151.6 347.8h0M846.7 451.6h0M877.4 410.3h0M849.8 428.5h0M210.2 270.3h0M376.9 426.7h0M406.3 401.7h0M376.3 405.8h0M654.7 252.1h0M620.4 217.2h0M213.9 279.5h0M611.6 276.3h0M387.3 379.4h0M870.1 418.7h0M382.7 414.1h0M355.6 329.4h0M363.6 320.6h0M374.6 378.7h0M621.3 298.1h0M194.2 361.9h0M392 471h0M384.6 389.8h0M378.8 340.7h0M650.2 336.8h0M193.5 390.6h0M885.1 367.1h0M341.3 322.3h0M359.2 386.7h0M634 329.1h0M400.2 361.8h0" stroke="#006D2C"/>
<path d="M399.2 293h0M881.3 173.2h0M873.1 171.9h0M910.3 235.6h0M904.6 297.7h0M416.9 266.2h0M392.6 165.6h0M370.4 207.5h0M424.9 261.2h0M419 314.6h0M386.1 261.6h0M420.6 153.7h0M437.4 242.9h0M437.4 235.8h0M409.5 250.7h0M903.6 223.4h0M867.4 173.5h0M908.5 272.7h0M906 270h0M889.4 263h0M902.6 249.2h0M401.4 194.5h0M389 319.4h0M392.2 304.6h0M402.1 270.7h0M405.8 253.2h0M887.9 174.7h0M898.3 274.6h0M902.8 209.1h0M885.1 220.5h0M886.2 184.1h0M416.1 174.4h0M391.4 328.4h0M400 277.6h0M890.3 250.7h0M419.1 260.2h0M880.6 245.4h0M906.7 267.1h0M420.5 190.4h0M909.6 246.2h0M451.8 265.1h0M428.3 149.4h0M457 146h0M395.6 230.9h0M402.6 339h0M899.9 298.1h0M388.7 170.5h0M430.9 250h0M905.9 286.7h0M353.3 298.4h0M397.1 212.4h0M405.8 262.4h0M896.3 197.1h0M421.5 312.8h0M403.4 267.3h0M897.8 296.9h0M884 271.7h0M398.9 333.6h0M425.8 210.8h0M385.9 310.1h0M397.1 186.8h0M408.7 320.6h0M381.7 286.5h0M408.2 278.9h0M896.7 193.3h0M380.1 254h0M909.7 237.6h0M895.1 240h0M412.6 319.4h0M420.9 255.9h0M895.5 258.6h0M904 284.1h0M901.4 255.4h0M902.7 247.4h0M903.5 215.9h0M388 205.5h0M411.7 289.6h0M895.4 225.8h0M392.2 300.3h0M412.4 297.1h0M426.4 247.3h0M903.6 207h0M419.9 143.4h0M886.5 239.5h0M417.2 318.6h0M424.2 224.4h0M417.1 265.1h0M895.1 347.3h0M897 179.9h0M892.7 187h0M396.5 276.6h0M406.1 269.1h0M907.1 274.6h0M396.5 329h0M407.4 301h0M415.6 284.9h0M904.5 284.9h0M904.3 261.8h0M409.3 297.5h0M905.3 275.8h0M897.4 236.5h0M901 272.6h0M895.2 203.8h0M402.6 276.6h0M413.3 247.4h0M420.2 292.1h0M908.2 277.7h0M381.8 313.7h0M899.9 277.5h0M404.3 252.7h0M902.3 218h0M417.1 305.1h0M901.9 215.4h0M426.6 176.5h0M401.5 191.7h0M404.5 318.7h0M890.1 181.5h0M913.2 279.1h0M403 227.7h0M897.4 196h0M405.5 252.1h0M386.1 206.1h0M897 190.4h0M399.4 323.5h0M401.2 325h0M876.8 187.1h0M433.1 242.5h0M904.4 211h0M422.5 262.8h0M381.4 257.2h0M406.3 306.5h0M386.3 250.4h0M888.1 175.6h0M400.9 271.3h0M902.1 252.3h0M902.8 231.5h0M907.4 217.8h0M897.6 280.2h0M884 158.1h0M902.5 209.5h0M893.7 178.5h0M900.4 213.9h0M392.5 268.6h0M405.6 306.4h0M432.6 281.7h0M906.7 263.1h0M418.1 246.1h0M409 284.2h0M411.7 286.2h0M383.1 300.6h0M384.7 285.6h0M880.9 327.6h0M407 205h0M896.9 309.8h0M897.2 180h0M403.3 309.2h0M389.9 329.1h0M420.1 313.1h0M893.9 218.5h0M406.2 252.1h0M897.8 187h0M403 240.3h0M434.6 300.1h0M419.3 318.9h0M878.4 258.2h0M873.1 148.8h0M398.6 287.3h0M911 246.8h0M893 194.7h0M906.7 293.9h0M396.5 306.9h0M370.7 253.8h0M423.3 245.9h0M434.6 252.8h0M883.4 293.8h0M906 293.6h0M877.7 151.8h0M903.8 279.9h0M907 245.6h0M839.9 243.4h0M871.5 281.4h0M389.2 328.3h0M899.2 263.5h0M900.3 286.8h0M895.3 192h0" stroke="#810F7C"/></g>
<rect x="125.25" y="106.1" width="351.45" height="381.55" fill="none" stroke="#333333" stroke-width="1.3"/>
<rect x="580.05" y="106.1" width="351.35" height="381.55" fill="none" stroke="#333333" stroke-width="1.3"/>
<path d="M117.95 485.00H125.25 M117.95 422.72H125.25 M117.95 360.43H125.25 M117.95 298.15H125.25 M117.95 235.87H125.25 M117.95 173.58H125.25 M117.95 111.30H125.25 M191.50 487.65V494.95 M296.05 487.65V494.95 M400.60 487.65V494.95 M572.75 395.10H580.05 M572.75 286.10H580.05 M572.75 177.10H580.05 M588.80 487.65V494.95 M674.38 487.65V494.95 M759.95 487.65V494.95 M845.53 487.65V494.95 M931.10 487.65V494.95" stroke="#333333" stroke-width="2.6" fill="none"/>
<g font-family="'Liberation Serif', serif" font-size="20.8" fill="#4D4D4D">
<text x="112" y="492.00" text-anchor="end">-0.015</text>
<text x="112" y="429.72" text-anchor="end">-0.010</text>
<text x="112" y="367.43" text-anchor="end">-0.005</text>
<text x="112" y="305.15" text-anchor="end">0.000</text>
<text x="112" y="242.87" text-anchor="end">0.005</text>
<text x="112" y="180.58" text-anchor="end">0.010</text>
<text x="112" y="118.30" text-anchor="end">0.015</text>
<text x="191.50" y="513.9" text-anchor="middle">-0.01</text>
<text x="296.05" y="513.9" text-anchor="middle">0.00</text>
<text x="400.60" y="513.9" text-anchor="middle">0.01</text>
<text x="567.2" y="402.10" text-anchor="end">-0.5</text>
<text x="567.2" y="293.10" text-anchor="end">0.0</text>
<text x="567.2" y="184.10" text-anchor="end">0.5</text>
<text x="588.80" y="513.9" text-anchor="middle">-1.0</text>
<text x="674.38" y="513.9" text-anchor="middle">-0.5</text>
<text x="759.95" y="513.9" text-anchor="middle">0.0</text>
<text x="845.53" y="513.9" text-anchor="middle">0.5</text>
<text x="931.10" y="513.9" text-anchor="middle">1.0</text>
</g>
<g font-family="'Liberation Serif', serif" fill="#000">
<text x="300.98" y="49.4" font-size="32" text-anchor="middle">Z<tspan dy="2.9">_</tspan><tspan dy="-2.9">orig</tspan></text>
<text x="755.72" y="49.4" font-size="32" text-anchor="middle">Z<tspan dy="2.9">_</tspan><tspan dy="-2.9">cos</tspan></text>
<text x="124.85" y="85.6" font-size="26.67">Euclidean distance</text>
<text x="579.65" y="85.6" font-size="26.67">Induced Cosine distance</text>
<text x="300.38" y="541.7" font-size="25.9" text-anchor="middle">PC1</text>
<text x="755.12" y="541.7" font-size="25.9" text-anchor="middle">PC1</text>
<text transform="translate(44.6 297.38) rotate(-90)" font-size="26.9" text-anchor="middle">PC2</text>
<text transform="translate(521.2 297.38) rotate(-90)" font-size="26.9" text-anchor="middle">PC2</text>
</g>
<rect x="134.55" y="230.40" width="88.5" height="41" rx="5.5" fill="#CF9F2E"/><text x="178.93" y="261.81" text-anchor="middle" letter-spacing="0.25" font-family="'DejaVu Sans', 'Liberation Sans', sans-serif" font-size="29.5" fill="#fff">t293</text>
<rect x="360.80" y="205.70" width="107.2" height="41" rx="5.5" fill="#810F7C"/><text x="414.65" y="237.41" text-anchor="middle" letter-spacing="0.5" font-family="'DejaVu Sans', 'Liberation Sans', sans-serif" font-size="29.5" fill="#fff">jurkat</text>
<rect x="272.00" y="349.95" width="76.6" height="41.1" rx="5.5" fill="#006D2C"/><text x="310.43" y="382.42" text-anchor="middle" letter-spacing="0.25" font-family="'DejaVu Sans', 'Liberation Sans', sans-serif" font-size="29.5" fill="#fff">half</text>
<rect x="628.25" y="215.05" width="88.5" height="40.5" rx="5.5" fill="#CF9F2E"/><text x="672.62" y="246.22" text-anchor="middle" letter-spacing="0.25" font-family="'DejaVu Sans', 'Liberation Sans', sans-serif" font-size="29.5" fill="#fff">t293</text>
<rect x="771.05" y="216.80" width="107.5" height="41" rx="5.5" fill="#810F7C"/><text x="825.05" y="248.52" text-anchor="middle" letter-spacing="0.5" font-family="'DejaVu Sans', 'Liberation Sans', sans-serif" font-size="29.5" fill="#fff">jurkat</text>
<rect x="736.05" y="287.50" width="76.5" height="41" rx="5.5" fill="#006D2C"/><text x="774.42" y="319.92" text-anchor="middle" letter-spacing="0.25" font-family="'DejaVu Sans', 'Liberation Sans', sans-serif" font-size="29.5" fill="#fff">half</text>
</svg>
</body></html>
